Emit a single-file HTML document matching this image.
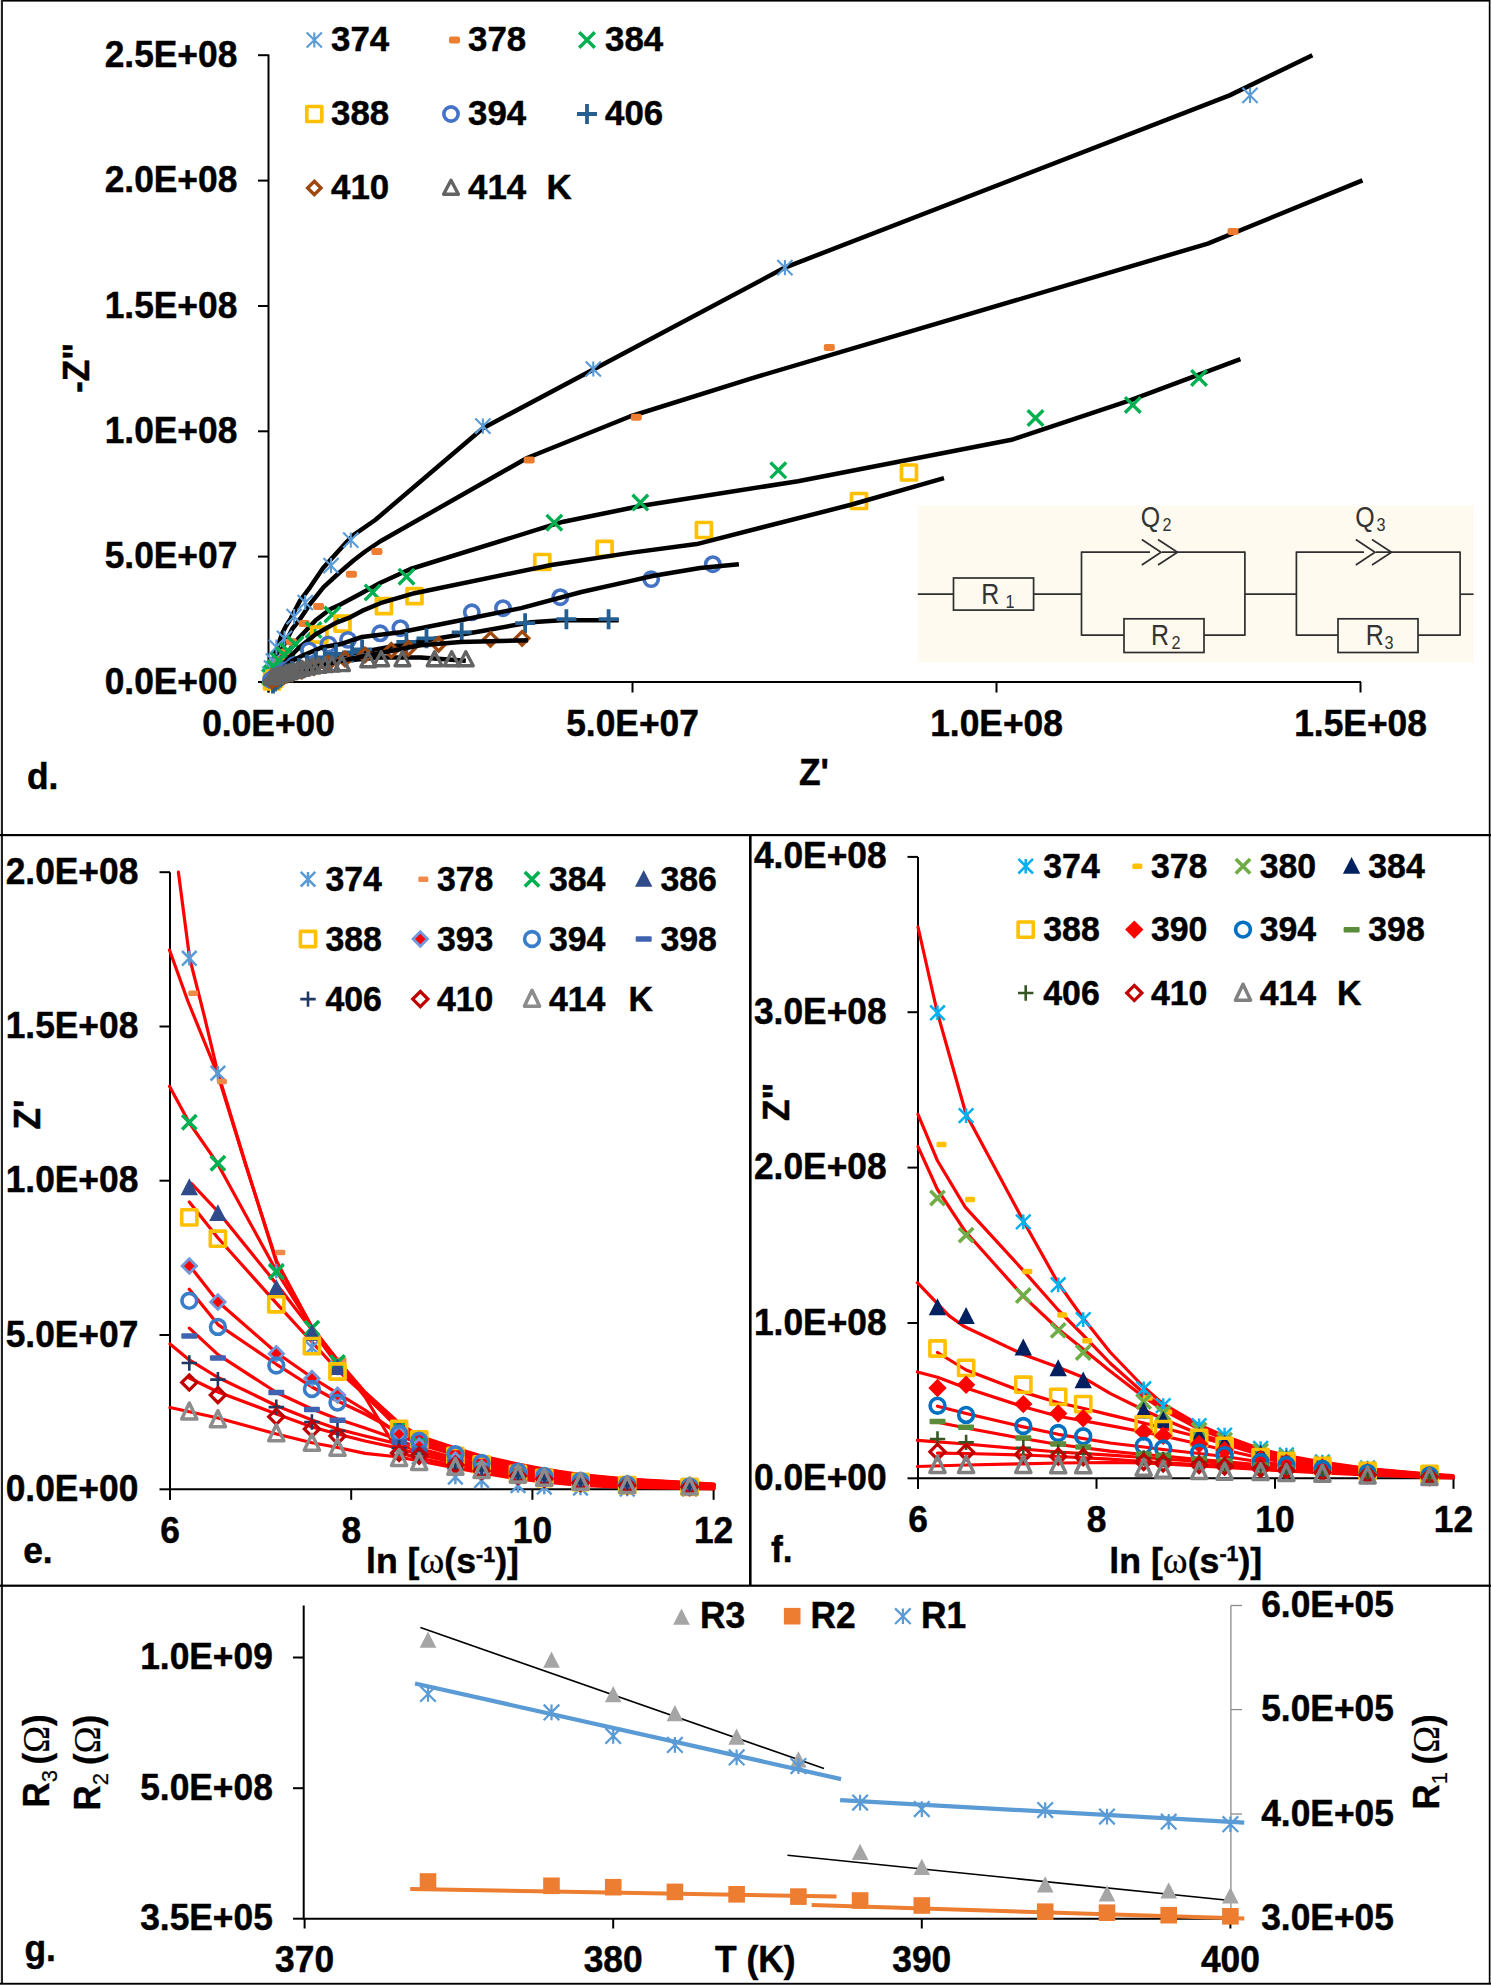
<!DOCTYPE html>
<html><head><meta charset="utf-8"><style>
html,body{margin:0;padding:0;background:#fff;}
svg{display:block;}
text{font-family:"Liberation Sans", sans-serif;}
</style></head><body>
<svg width="1491" height="1985" viewBox="0 0 1491 1985">
<rect x="0" y="0" width="1491" height="1985" fill="#fff"/>
<rect x="0.0" y="0.0" width="1491.0" height="1.6" fill="#000" />
<rect x="0.0" y="0.0" width="1.0" height="1985.0" fill="#ddd" />
<rect x="1.0" y="0.0" width="2.0" height="1985.0" fill="#222" />
<rect x="1488.8" y="0.0" width="1.2" height="1985.0" fill="#000" />
<rect x="1490.0" y="0.0" width="1.0" height="1985.0" fill="#8a8a8a" />
<rect x="0.0" y="1982.8" width="1491.0" height="1.2" fill="#000" />
<rect x="0.0" y="1984.0" width="1491.0" height="1.0" fill="#4f4f4f" />
<rect x="0.0" y="834.0" width="1491.0" height="2.2" fill="#000" />
<rect x="0.0" y="1584.6" width="1491.0" height="2.2" fill="#000" />
<rect x="749.0" y="835.0" width="2.6" height="750.0" fill="#000" />
<line x1="268.5" y1="54.5" x2="268.5" y2="692.5" stroke="#000" stroke-width="2" />
<line x1="267.5" y1="682.0" x2="1361.0" y2="682.0" stroke="#000" stroke-width="2" />
<line x1="258.0" y1="682.0" x2="268.5" y2="682.0" stroke="#000" stroke-width="2" />
<line x1="258.0" y1="556.6" x2="268.5" y2="556.6" stroke="#000" stroke-width="2" />
<line x1="258.0" y1="431.3" x2="268.5" y2="431.3" stroke="#000" stroke-width="2" />
<line x1="258.0" y1="306.0" x2="268.5" y2="306.0" stroke="#000" stroke-width="2" />
<line x1="258.0" y1="180.6" x2="268.5" y2="180.6" stroke="#000" stroke-width="2" />
<line x1="258.0" y1="55.2" x2="268.5" y2="55.2" stroke="#000" stroke-width="2" />
<line x1="268.5" y1="682.0" x2="268.5" y2="692.5" stroke="#000" stroke-width="2" />
<line x1="632.5" y1="682.0" x2="632.5" y2="692.5" stroke="#000" stroke-width="2" />
<line x1="996.5" y1="682.0" x2="996.5" y2="692.5" stroke="#000" stroke-width="2" />
<line x1="1360.5" y1="682.0" x2="1360.5" y2="692.5" stroke="#000" stroke-width="2" />
<text transform="translate(237.3,693.5) scale(1.01,1.04)" font-size="35" text-anchor="end" font-weight="bold" fill="#000" stroke="#000" stroke-width="0.45">0.0E+00</text>
<text transform="translate(237.3,568.1) scale(1.01,1.04)" font-size="35" text-anchor="end" font-weight="bold" fill="#000" stroke="#000" stroke-width="0.45">5.0E+07</text>
<text transform="translate(237.3,442.8) scale(1.01,1.04)" font-size="35" text-anchor="end" font-weight="bold" fill="#000" stroke="#000" stroke-width="0.45">1.0E+08</text>
<text transform="translate(237.3,317.5) scale(1.01,1.04)" font-size="35" text-anchor="end" font-weight="bold" fill="#000" stroke="#000" stroke-width="0.45">1.5E+08</text>
<text transform="translate(237.3,192.1) scale(1.01,1.04)" font-size="35" text-anchor="end" font-weight="bold" fill="#000" stroke="#000" stroke-width="0.45">2.0E+08</text>
<text transform="translate(237.3,66.8) scale(1.01,1.04)" font-size="35" text-anchor="end" font-weight="bold" fill="#000" stroke="#000" stroke-width="0.45">2.5E+08</text>
<text transform="translate(268.5,736.2) scale(1.01,1.04)" font-size="35" text-anchor="middle" font-weight="bold" fill="#000" stroke="#000" stroke-width="0.45">0.0E+00</text>
<text transform="translate(632.5,736.2) scale(1.01,1.04)" font-size="35" text-anchor="middle" font-weight="bold" fill="#000" stroke="#000" stroke-width="0.45">5.0E+07</text>
<text transform="translate(996.5,736.2) scale(1.01,1.04)" font-size="35" text-anchor="middle" font-weight="bold" fill="#000" stroke="#000" stroke-width="0.45">1.0E+08</text>
<text transform="translate(1360.5,736.2) scale(1.01,1.04)" font-size="35" text-anchor="middle" font-weight="bold" fill="#000" stroke="#000" stroke-width="0.45">1.5E+08</text>
<text transform="translate(27.0,788.5) scale(1.01,1.04)" font-size="35" text-anchor="start" font-weight="bold" fill="#000" stroke="#000" stroke-width="0.45">d.</text>
<text transform="translate(799.0,785.3) scale(1.01,1.04)" font-size="35" text-anchor="start" font-weight="bold" fill="#000" stroke="#000" stroke-width="0.45">Z'</text>
<text x="0" y="0" font-size="35" font-weight="bold" stroke="#000" stroke-width="0.45" transform="translate(89,393) rotate(-90) scale(1.01,1.04)">-Z"</text>
<polyline points="268.5,682.0 270.0,673.0 272.0,663.8 274.5,655.0 277.4,647.1 282.1,633.7 286.0,626.0 290.7,618.6 300.1,600.5 310.2,587.1 322.9,568.3 333.7,556.2 347.1,541.5 353.8,534.8 375.2,520.0 482.9,428.2 784.9,267.6 1229.6,95.4 1312.4,55.3" fill="none" stroke="#000" stroke-width="4.5" stroke-linejoin="round"  stroke-linecap="butt"/>
<polyline points="268.5,682.0 271.0,674.0 275.0,664.0 280.0,653.0 286.0,641.0 292.2,629.0 300.1,619.0 310.2,603.8 323.6,587.1 339.0,573.0 353.8,560.2 365.2,551.5 380.0,541.5 527.0,458.0 630.0,416.5 750.0,378.8 1207.8,243.6 1362.5,180.4" fill="none" stroke="#000" stroke-width="4.5" stroke-linejoin="round"  stroke-linecap="butt"/>
<polyline points="268.5,682.0 272.0,675.0 277.0,668.0 284.0,660.0 291.0,648.0 298.9,638.0 315.7,620.2 330.0,609.3 340.4,604.5 360.5,593.8 380.0,583.0 410.5,569.0 553.3,524.7 563.4,521.7 640.3,506.0 798.0,481.2 1011.6,439.8 1129.3,400.6 1240.4,359.1" fill="none" stroke="#000" stroke-width="4.5" stroke-linejoin="round"  stroke-linecap="butt"/>
<polyline points="268.5,682.0 278.0,677.0 290.0,671.5 305.0,666.0 325.0,660.0 350.0,654.0 370.2,650.4 420.5,641.3 480.8,631.2 531.1,622.2 561.3,620.2 618.7,620.2" fill="none" stroke="#000" stroke-width="4.5" stroke-linejoin="round"  stroke-linecap="butt"/>
<polyline points="268.5,682.0 282.0,677.0 298.0,672.0 318.0,667.5 340.0,661.0 380.2,657.5 420.5,657.4 465.8,660.8" fill="none" stroke="#000" stroke-width="4.5" stroke-linejoin="round"  stroke-linecap="butt"/>
<path d="M262.4,666.4L277.6,681.6M277.6,666.4L262.4,681.6M270.0,666.4L270.0,681.6" stroke="#5B9BD5" stroke-width="2.1" fill="none"/>
<path d="M263.9,660.4L279.1,675.6M279.1,660.4L263.9,675.6M271.5,660.4L271.5,675.6" stroke="#5B9BD5" stroke-width="2.1" fill="none"/>
<path d="M265.8,653.4L281.0,668.6M281.0,653.4L265.8,668.6M273.4,653.4L273.4,668.6" stroke="#5B9BD5" stroke-width="2.1" fill="none"/>
<path d="M268.8,639.5L284.0,654.7M284.0,639.5L268.8,654.7M276.4,639.5L276.4,654.7" stroke="#5B9BD5" stroke-width="2.1" fill="none"/>
<path d="M276.9,630.8L292.1,646.0M292.1,630.8L276.9,646.0M284.5,630.8L284.5,646.0" stroke="#5B9BD5" stroke-width="2.1" fill="none"/>
<path d="M286.5,609.0L301.7,624.2M301.7,609.0L286.5,624.2M294.1,609.0L294.1,624.2" stroke="#5B9BD5" stroke-width="2.1" fill="none"/>
<path d="M297.6,594.9L312.8,610.1M312.8,594.9L297.6,610.1M305.2,594.9L305.2,610.1" stroke="#5B9BD5" stroke-width="2.1" fill="none"/>
<path d="M323.4,558.0L338.6,573.2M338.6,558.0L323.4,573.2M331.0,558.0L331.0,573.2" stroke="#5B9BD5" stroke-width="2.1" fill="none"/>
<path d="M343.2,532.5L358.4,547.7M358.4,532.5L343.2,547.7M350.8,532.5L350.8,547.7" stroke="#5B9BD5" stroke-width="2.1" fill="none"/>
<path d="M475.3,418.6L490.5,433.8M490.5,418.6L475.3,433.8M482.9,418.6L482.9,433.8" stroke="#5B9BD5" stroke-width="2.1" fill="none"/>
<path d="M585.7,361.4L600.9,376.6M600.9,361.4L585.7,376.6M593.3,361.4L593.3,376.6" stroke="#5B9BD5" stroke-width="2.1" fill="none"/>
<path d="M777.3,260.0L792.5,275.2M792.5,260.0L777.3,275.2M784.9,260.0L784.9,275.2" stroke="#5B9BD5" stroke-width="2.1" fill="none"/>
<path d="M1242.4,87.8L1257.6,103.0M1257.6,87.8L1242.4,103.0M1250.0,87.8L1250.0,103.0" stroke="#5B9BD5" stroke-width="2.1" fill="none"/>
<rect x="265.5" y="672.5" width="11" height="7" rx="2.2" fill="#ED7D31"/>
<rect x="267.5" y="667.5" width="11" height="7" rx="2.2" fill="#ED7D31"/>
<rect x="270.5" y="662.5" width="11" height="7" rx="2.2" fill="#ED7D31"/>
<rect x="274.5" y="656.5" width="11" height="7" rx="2.2" fill="#ED7D31"/>
<rect x="279.5" y="648.5" width="11" height="7" rx="2.2" fill="#ED7D31"/>
<rect x="286.0" y="638.2" width="11" height="7" rx="2.2" fill="#ED7D31"/>
<rect x="298.8" y="620.1" width="11" height="7" rx="2.2" fill="#ED7D31"/>
<rect x="313.1" y="603.0" width="11" height="7" rx="2.2" fill="#ED7D31"/>
<rect x="345.9" y="570.8" width="11" height="7" rx="2.2" fill="#ED7D31"/>
<rect x="371.4" y="548.0" width="11" height="7" rx="2.2" fill="#ED7D31"/>
<rect x="523.7" y="456.5" width="11" height="7" rx="2.2" fill="#ED7D31"/>
<rect x="630.8" y="413.8" width="11" height="7" rx="2.2" fill="#ED7D31"/>
<rect x="823.8" y="343.9" width="11" height="7" rx="2.2" fill="#ED7D31"/>
<rect x="1227.5" y="227.9" width="11" height="7" rx="2.2" fill="#ED7D31"/>
<path d="M262.2,669.2L277.8,684.8M277.8,669.2L262.2,684.8" stroke="#00B050" stroke-width="3.4" fill="none"/>
<path d="M264.2,665.2L279.8,680.8M279.8,665.2L264.2,680.8" stroke="#00B050" stroke-width="3.4" fill="none"/>
<path d="M267.2,660.2L282.8,675.8M282.8,660.2L267.2,675.8" stroke="#00B050" stroke-width="3.4" fill="none"/>
<path d="M271.0,652.7L286.6,668.3M286.6,652.7L271.0,668.3" stroke="#00B050" stroke-width="3.4" fill="none"/>
<path d="M276.2,647.2L291.8,662.8M291.8,647.2L276.2,662.8" stroke="#00B050" stroke-width="3.4" fill="none"/>
<path d="M280.4,643.3L296.0,658.9M296.0,643.3L280.4,658.9" stroke="#00B050" stroke-width="3.4" fill="none"/>
<path d="M287.7,636.6L303.3,652.2M303.3,636.6L287.7,652.2" stroke="#00B050" stroke-width="3.4" fill="none"/>
<path d="M305.8,622.2L321.4,637.8M321.4,622.2L305.8,637.8" stroke="#00B050" stroke-width="3.4" fill="none"/>
<path d="M324.5,606.7L340.1,622.3M340.1,606.7L324.5,622.3" stroke="#00B050" stroke-width="3.4" fill="none"/>
<path d="M364.8,584.6L380.4,600.2M380.4,584.6L364.8,600.2" stroke="#00B050" stroke-width="3.4" fill="none"/>
<path d="M398.7,568.9L414.3,584.5M414.3,568.9L398.7,584.5" stroke="#00B050" stroke-width="3.4" fill="none"/>
<path d="M546.5,514.9L562.1,530.5M562.1,514.9L546.5,530.5" stroke="#00B050" stroke-width="3.4" fill="none"/>
<path d="M632.5,494.8L648.1,510.4M648.1,494.8L632.5,510.4" stroke="#00B050" stroke-width="3.4" fill="none"/>
<path d="M770.5,462.5L786.1,478.1M786.1,462.5L770.5,478.1" stroke="#00B050" stroke-width="3.4" fill="none"/>
<path d="M1027.7,410.2L1043.3,425.8M1043.3,410.2L1027.7,425.8" stroke="#00B050" stroke-width="3.4" fill="none"/>
<path d="M1125.0,397.1L1140.6,412.7M1140.6,397.1L1125.0,412.7" stroke="#00B050" stroke-width="3.4" fill="none"/>
<path d="M1191.2,370.1L1206.8,385.7M1206.8,370.1L1191.2,385.7" stroke="#00B050" stroke-width="3.4" fill="none"/>
<rect x="264.5" y="674.0" width="15.0" height="15.0" stroke="#FFC000" stroke-width="3.7" fill="none" stroke-linejoin="round"/>
<rect x="267.0" y="671.0" width="15.0" height="15.0" stroke="#FFC000" stroke-width="3.7" fill="none" stroke-linejoin="round"/>
<rect x="311.9" y="627.1" width="15.0" height="15.0" stroke="#FFC000" stroke-width="3.7" fill="none" stroke-linejoin="round"/>
<rect x="335.0" y="616.1" width="15.0" height="15.0" stroke="#FFC000" stroke-width="3.7" fill="none" stroke-linejoin="round"/>
<rect x="376.4" y="598.7" width="15.0" height="15.0" stroke="#FFC000" stroke-width="3.7" fill="none" stroke-linejoin="round"/>
<rect x="407.0" y="588.7" width="15.0" height="15.0" stroke="#FFC000" stroke-width="3.7" fill="none" stroke-linejoin="round"/>
<rect x="534.8" y="554.5" width="15.0" height="15.0" stroke="#FFC000" stroke-width="3.7" fill="none" stroke-linejoin="round"/>
<rect x="597.1" y="541.4" width="15.0" height="15.0" stroke="#FFC000" stroke-width="3.7" fill="none" stroke-linejoin="round"/>
<rect x="696.4" y="522.5" width="15.0" height="15.0" stroke="#FFC000" stroke-width="3.7" fill="none" stroke-linejoin="round"/>
<rect x="851.5" y="493.5" width="15.0" height="15.0" stroke="#FFC000" stroke-width="3.7" fill="none" stroke-linejoin="round"/>
<rect x="901.5" y="465.0" width="15.0" height="15.0" stroke="#FFC000" stroke-width="3.7" fill="none" stroke-linejoin="round"/>
<polyline points="268.5,682.0 273.0,676.0 279.0,669.0 287.0,660.0 298.9,647.7 315.7,634.3 335.8,622.9 350.1,617.3 362.0,610.9 380.3,603.2 414.5,593.2 551.3,565.0 630.0,552.9 696.7,544.1 850.0,505.0 944.0,478.2" fill="none" stroke="#000" stroke-width="4.5" stroke-linejoin="round"  stroke-linecap="butt"/>
<circle cx="271.0" cy="680.0" r="7.15" stroke="#4472C4" stroke-width="3.6" fill="none"/>
<circle cx="275.0" cy="677.0" r="7.15" stroke="#4472C4" stroke-width="3.6" fill="none"/>
<circle cx="280.0" cy="674.0" r="7.15" stroke="#4472C4" stroke-width="3.6" fill="none"/>
<circle cx="286.0" cy="670.0" r="7.15" stroke="#4472C4" stroke-width="3.6" fill="none"/>
<circle cx="294.0" cy="665.0" r="7.15" stroke="#4472C4" stroke-width="3.6" fill="none"/>
<circle cx="309.0" cy="650.4" r="7.15" stroke="#4472C4" stroke-width="3.6" fill="none"/>
<circle cx="328.4" cy="644.4" r="7.15" stroke="#4472C4" stroke-width="3.6" fill="none"/>
<circle cx="348.0" cy="639.9" r="7.15" stroke="#4472C4" stroke-width="3.6" fill="none"/>
<circle cx="380.2" cy="633.3" r="7.15" stroke="#4472C4" stroke-width="3.6" fill="none"/>
<circle cx="400.4" cy="628.2" r="7.15" stroke="#4472C4" stroke-width="3.6" fill="none"/>
<circle cx="471.8" cy="612.3" r="7.15" stroke="#4472C4" stroke-width="3.6" fill="none"/>
<circle cx="503.0" cy="608.2" r="7.15" stroke="#4472C4" stroke-width="3.6" fill="none"/>
<circle cx="560.3" cy="597.2" r="7.15" stroke="#4472C4" stroke-width="3.6" fill="none"/>
<circle cx="651.2" cy="579.1" r="7.15" stroke="#4472C4" stroke-width="3.6" fill="none"/>
<circle cx="712.8" cy="564.2" r="7.15" stroke="#4472C4" stroke-width="3.6" fill="none"/>
<polyline points="268.5,682.0 275.0,675.0 283.0,668.0 292.0,661.0 302.2,655.8 322.4,647.1 340.0,644.3 362.0,637.0 400.4,632.3 460.7,620.2 521.1,608.1 581.4,592.0 630.0,581.1 652.4,576.0 700.0,568.0 738.9,564.2" fill="none" stroke="#000" stroke-width="4.5" stroke-linejoin="round"  stroke-linecap="butt"/>
<path d="M263.0,683.5L283.0,683.5M273.0,673.5L273.0,693.5" stroke="#255E91" stroke-width="3.8" fill="none"/>
<path d="M265.0,681.5L285.0,681.5M275.0,671.5L275.0,691.5" stroke="#255E91" stroke-width="3.8" fill="none"/>
<path d="M267.5,679.5L287.5,679.5M277.5,669.5L277.5,689.5" stroke="#255E91" stroke-width="3.8" fill="none"/>
<path d="M270.0,677.5L290.0,677.5M280.0,667.5L280.0,687.5" stroke="#255E91" stroke-width="3.8" fill="none"/>
<path d="M271.0,676.0L291.0,676.0M281.0,666.0L281.0,686.0" stroke="#255E91" stroke-width="3.8" fill="none"/>
<path d="M276.0,673.5L296.0,673.5M286.0,663.5L286.0,683.5" stroke="#255E91" stroke-width="3.8" fill="none"/>
<path d="M282.0,671.0L302.0,671.0M292.0,661.0L292.0,681.0" stroke="#255E91" stroke-width="3.8" fill="none"/>
<path d="M289.0,668.0L309.0,668.0M299.0,658.0L299.0,678.0" stroke="#255E91" stroke-width="3.8" fill="none"/>
<path d="M297.0,664.5L317.0,664.5M307.0,654.5L307.0,674.5" stroke="#255E91" stroke-width="3.8" fill="none"/>
<path d="M306.0,661.0L326.0,661.0M316.0,651.0L316.0,671.0" stroke="#255E91" stroke-width="3.8" fill="none"/>
<path d="M314.8,657.4L334.8,657.4M324.8,647.4L324.8,667.4" stroke="#255E91" stroke-width="3.8" fill="none"/>
<path d="M326.0,654.0L346.0,654.0M336.0,644.0L336.0,664.0" stroke="#255E91" stroke-width="3.8" fill="none"/>
<path d="M342.1,652.4L362.1,652.4M352.1,642.4L352.1,662.4" stroke="#255E91" stroke-width="3.8" fill="none"/>
<path d="M352.1,649.4L372.1,649.4M362.1,639.4L362.1,659.4" stroke="#255E91" stroke-width="3.8" fill="none"/>
<path d="M396.4,641.9L416.4,641.9M406.4,631.9L406.4,651.9" stroke="#255E91" stroke-width="3.8" fill="none"/>
<path d="M416.5,638.3L436.5,638.3M426.5,628.3L426.5,648.3" stroke="#255E91" stroke-width="3.8" fill="none"/>
<path d="M451.7,632.3L471.7,632.3M461.7,622.3L461.7,642.3" stroke="#255E91" stroke-width="3.8" fill="none"/>
<path d="M515.1,623.2L535.1,623.2M525.1,613.2L525.1,633.2" stroke="#255E91" stroke-width="3.8" fill="none"/>
<path d="M556.4,619.2L576.4,619.2M566.4,609.2L566.4,629.2" stroke="#255E91" stroke-width="3.8" fill="none"/>
<path d="M598.6,619.2L618.6,619.2M608.6,609.2L608.6,629.2" stroke="#255E91" stroke-width="3.8" fill="none"/>
<path d="M272.0,674.3L278.7,681.0L272.0,687.7L265.3,681.0Z" stroke="#9E480E" stroke-width="3.4" fill="none"/>
<path d="M277.0,672.3L283.7,679.0L277.0,685.7L270.3,679.0Z" stroke="#9E480E" stroke-width="3.4" fill="none"/>
<path d="M284.0,669.8L290.7,676.5L284.0,683.2L277.3,676.5Z" stroke="#9E480E" stroke-width="3.4" fill="none"/>
<path d="M292.0,667.3L298.7,674.0L292.0,680.7L285.3,674.0Z" stroke="#9E480E" stroke-width="3.4" fill="none"/>
<path d="M302.0,664.3L308.7,671.0L302.0,677.7L295.3,671.0Z" stroke="#9E480E" stroke-width="3.4" fill="none"/>
<path d="M314.0,660.8L320.7,667.5L314.0,674.2L307.3,667.5Z" stroke="#9E480E" stroke-width="3.4" fill="none"/>
<path d="M328.0,656.8L334.7,663.5L328.0,670.2L321.3,663.5Z" stroke="#9E480E" stroke-width="3.4" fill="none"/>
<path d="M345.0,652.3L351.7,659.0L345.0,665.7L338.3,659.0Z" stroke="#9E480E" stroke-width="3.4" fill="none"/>
<path d="M365.0,648.3L371.7,655.0L365.0,661.7L358.3,655.0Z" stroke="#9E480E" stroke-width="3.4" fill="none"/>
<path d="M391.3,643.7L398.0,650.4L391.3,657.1L384.6,650.4Z" stroke="#9E480E" stroke-width="3.4" fill="none"/>
<path d="M408.4,641.7L415.1,648.4L408.4,655.1L401.7,648.4Z" stroke="#9E480E" stroke-width="3.4" fill="none"/>
<path d="M438.6,637.6L445.3,644.3L438.6,651.0L431.9,644.3Z" stroke="#9E480E" stroke-width="3.4" fill="none"/>
<path d="M490.5,632.6L497.2,639.3L490.5,646.0L483.8,639.3Z" stroke="#9E480E" stroke-width="3.4" fill="none"/>
<path d="M522.1,631.6L528.8,638.3L522.1,645.0L515.4,638.3Z" stroke="#9E480E" stroke-width="3.4" fill="none"/>
<polyline points="268.5,682.0 280.0,677.5 295.0,672.5 315.0,667.0 340.0,661.0 370.0,655.0 420.5,645.3 460.7,641.9 528.1,640.3" fill="none" stroke="#000" stroke-width="4.5" stroke-linejoin="round"  stroke-linecap="butt"/>
<path d="M272.0,669.8L279.4,683.8L264.6,683.8Z" stroke="#636363" stroke-width="3.4" fill="none" stroke-linejoin="round"/>
<path d="M275.5,668.8L282.9,682.8L268.1,682.8Z" stroke="#636363" stroke-width="3.4" fill="none" stroke-linejoin="round"/>
<path d="M279.0,667.8L286.4,681.8L271.6,681.8Z" stroke="#636363" stroke-width="3.4" fill="none" stroke-linejoin="round"/>
<path d="M282.5,666.8L289.9,680.8L275.1,680.8Z" stroke="#636363" stroke-width="3.4" fill="none" stroke-linejoin="round"/>
<path d="M286.0,665.8L293.4,679.8L278.6,679.8Z" stroke="#636363" stroke-width="3.4" fill="none" stroke-linejoin="round"/>
<path d="M289.5,664.8L296.9,678.8L282.1,678.8Z" stroke="#636363" stroke-width="3.4" fill="none" stroke-linejoin="round"/>
<path d="M293.5,663.6L300.9,677.6L286.1,677.6Z" stroke="#636363" stroke-width="3.4" fill="none" stroke-linejoin="round"/>
<path d="M297.5,662.6L304.9,676.6L290.1,676.6Z" stroke="#636363" stroke-width="3.4" fill="none" stroke-linejoin="round"/>
<path d="M302.0,661.3L309.4,675.3L294.6,675.3Z" stroke="#636363" stroke-width="3.4" fill="none" stroke-linejoin="round"/>
<path d="M307.0,660.1L314.4,674.1L299.6,674.1Z" stroke="#636363" stroke-width="3.4" fill="none" stroke-linejoin="round"/>
<path d="M312.5,659.1L319.9,673.1L305.1,673.1Z" stroke="#636363" stroke-width="3.4" fill="none" stroke-linejoin="round"/>
<path d="M318.5,658.3L325.9,672.3L311.1,672.3Z" stroke="#636363" stroke-width="3.4" fill="none" stroke-linejoin="round"/>
<path d="M325.0,657.6L332.4,671.6L317.6,671.6Z" stroke="#636363" stroke-width="3.4" fill="none" stroke-linejoin="round"/>
<path d="M332.0,657.1L339.4,671.1L324.6,671.1Z" stroke="#636363" stroke-width="3.4" fill="none" stroke-linejoin="round"/>
<path d="M342.0,656.6L349.4,670.6L334.6,670.6Z" stroke="#636363" stroke-width="3.4" fill="none" stroke-linejoin="round"/>
<path d="M368.2,652.7L375.6,666.7L360.8,666.7Z" stroke="#636363" stroke-width="3.4" fill="none" stroke-linejoin="round"/>
<path d="M381.2,651.7L388.6,665.7L373.8,665.7Z" stroke="#636363" stroke-width="3.4" fill="none" stroke-linejoin="round"/>
<path d="M402.4,651.7L409.8,665.7L395.0,665.7Z" stroke="#636363" stroke-width="3.4" fill="none" stroke-linejoin="round"/>
<path d="M434.6,651.7L442.0,665.7L427.2,665.7Z" stroke="#636363" stroke-width="3.4" fill="none" stroke-linejoin="round"/>
<path d="M451.7,651.7L459.1,665.7L444.3,665.7Z" stroke="#636363" stroke-width="3.4" fill="none" stroke-linejoin="round"/>
<path d="M465.8,651.7L473.2,665.7L458.4,665.7Z" stroke="#636363" stroke-width="3.4" fill="none" stroke-linejoin="round"/>
<text transform="translate(331.0,51.0) scale(1.01,1.04)" font-size="34.5" text-anchor="start" font-weight="bold" fill="#000" stroke="#000" stroke-width="0.45">374</text>
<path d="M306.7,32.4L321.9,47.6M321.9,32.4L306.7,47.6M314.3,32.4L314.3,47.6" stroke="#5B9BD5" stroke-width="2.1" fill="none"/>
<text transform="translate(468.0,51.0) scale(1.01,1.04)" font-size="34.5" text-anchor="start" font-weight="bold" fill="#000" stroke="#000" stroke-width="0.45">378</text>
<rect x="449.0" y="36.5" width="11" height="7" rx="2.2" fill="#ED7D31"/>
<text transform="translate(605.0,51.0) scale(1.01,1.04)" font-size="34.5" text-anchor="start" font-weight="bold" fill="#000" stroke="#000" stroke-width="0.45">384</text>
<path d="M579.2,32.2L594.8,47.8M594.8,32.2L579.2,47.8" stroke="#00B050" stroke-width="3.4" fill="none"/>
<text transform="translate(331.0,125.0) scale(1.01,1.04)" font-size="34.5" text-anchor="start" font-weight="bold" fill="#000" stroke="#000" stroke-width="0.45">388</text>
<rect x="306.8" y="106.5" width="15.0" height="15.0" stroke="#FFC000" stroke-width="3.7" fill="none" stroke-linejoin="round"/>
<text transform="translate(468.0,125.0) scale(1.01,1.04)" font-size="34.5" text-anchor="start" font-weight="bold" fill="#000" stroke="#000" stroke-width="0.45">394</text>
<circle cx="451.0" cy="114.0" r="7.15" stroke="#4472C4" stroke-width="3.6" fill="none"/>
<text transform="translate(605.0,125.0) scale(1.01,1.04)" font-size="34.5" text-anchor="start" font-weight="bold" fill="#000" stroke="#000" stroke-width="0.45">406</text>
<path d="M577.0,114.0L597.0,114.0M587.0,104.0L587.0,124.0" stroke="#255E91" stroke-width="3.8" fill="none"/>
<text transform="translate(331.0,199.0) scale(1.01,1.04)" font-size="34.5" text-anchor="start" font-weight="bold" fill="#000" stroke="#000" stroke-width="0.45">410</text>
<path d="M314.3,181.3L321.0,188.0L314.3,194.7L307.6,188.0Z" stroke="#9E480E" stroke-width="3.4" fill="none"/>
<text transform="translate(468.0,199.0) scale(1.01,1.04)" font-size="34.5" text-anchor="start" font-weight="bold" fill="#000" stroke="#000" stroke-width="0.45">414</text>
<path d="M451.0,180.3L458.4,194.3L443.6,194.3Z" stroke="#636363" stroke-width="3.4" fill="none" stroke-linejoin="round"/>
<text transform="translate(546.5,199.0) scale(1.01,1.04)" font-size="34.5" text-anchor="start" font-weight="bold" fill="#000" stroke="#000" stroke-width="0.45">K</text>
<rect x="917.8" y="505.5" width="555.8" height="156.9" fill="#FEFAEF" />
<line x1="917.8" y1="594.2" x2="953.5" y2="594.2" stroke="#2e2e2e" stroke-width="1.7" />
<rect x="953.5" y="578" width="80.1" height="32.1" fill="none" stroke="#2e2e2e" stroke-width="1.7"/>
<line x1="1033.6" y1="594.2" x2="1081.5" y2="594.2" stroke="#2e2e2e" stroke-width="1.7" />
<line x1="1081.5" y1="551.5" x2="1081.5" y2="635.8" stroke="#2e2e2e" stroke-width="1.7" />
<line x1="1244.9" y1="551.5" x2="1244.9" y2="635.8" stroke="#2e2e2e" stroke-width="1.7" />
<line x1="1081.5" y1="552.2" x2="1150.0" y2="552.2" stroke="#2e2e2e" stroke-width="1.7" />
<line x1="1162.0" y1="552.2" x2="1244.9" y2="552.2" stroke="#2e2e2e" stroke-width="1.7" />
<path d="M1141.8,539.5 L1161,552.2 L1141.8,565 M1158,539.5 L1177.5,552.2 L1158,565" fill="none" stroke="#2e2e2e" stroke-width="1.7"/>
<line x1="1081.5" y1="635.1" x2="1124.0" y2="635.1" stroke="#2e2e2e" stroke-width="1.7" />
<line x1="1204.0" y1="635.1" x2="1244.9" y2="635.1" stroke="#2e2e2e" stroke-width="1.7" />
<rect x="1124" y="618.8" width="80" height="33.7" fill="none" stroke="#2e2e2e" stroke-width="1.7"/>
<line x1="1244.9" y1="594.2" x2="1296.4" y2="594.2" stroke="#2e2e2e" stroke-width="1.7" />
<line x1="1296.4" y1="551.5" x2="1296.4" y2="635.8" stroke="#2e2e2e" stroke-width="1.7" />
<line x1="1460.1" y1="551.5" x2="1460.1" y2="635.8" stroke="#2e2e2e" stroke-width="1.7" />
<line x1="1296.4" y1="552.2" x2="1364.0" y2="552.2" stroke="#2e2e2e" stroke-width="1.7" />
<line x1="1376.0" y1="552.2" x2="1460.1" y2="552.2" stroke="#2e2e2e" stroke-width="1.7" />
<path d="M1355.8,539.5 L1375,552.2 L1355.8,565 M1372,539.5 L1391.5,552.2 L1372,565" fill="none" stroke="#2e2e2e" stroke-width="1.7"/>
<line x1="1296.4" y1="635.1" x2="1338.0" y2="635.1" stroke="#2e2e2e" stroke-width="1.7" />
<line x1="1418.0" y1="635.1" x2="1460.1" y2="635.1" stroke="#2e2e2e" stroke-width="1.7" />
<rect x="1338" y="618.8" width="80" height="33.7" fill="none" stroke="#2e2e2e" stroke-width="1.7"/>
<line x1="1460.1" y1="594.2" x2="1473.6" y2="594.2" stroke="#2e2e2e" stroke-width="1.7" />
<text transform="translate(981.3,603.6) scale(0.86,1)" font-size="29" fill="#333">R</text>
<text transform="translate(1005.5,607.7) scale(0.9,1)" font-size="18" fill="#333">1</text>
<text transform="translate(1150.9,644.6) scale(0.86,1)" font-size="29" fill="#333">R</text>
<text transform="translate(1171.5,648.5) scale(0.9,1)" font-size="18" fill="#333">2</text>
<text transform="translate(1365.8,644.6) scale(0.86,1)" font-size="29" fill="#333">R</text>
<text transform="translate(1384.4,648.5) scale(0.9,1)" font-size="18" fill="#333">3</text>
<text transform="translate(1140.8,526.5) scale(0.86,1)" font-size="29" fill="#333">Q</text>
<text transform="translate(1162.5,531.2) scale(0.9,1)" font-size="18" fill="#333">2</text>
<text transform="translate(1355.3,526.5) scale(0.86,1)" font-size="29" fill="#333">Q</text>
<text transform="translate(1376.5,531.2) scale(0.9,1)" font-size="18" fill="#333">3</text>
<line x1="170.0" y1="872.2" x2="170.0" y2="1499.8" stroke="#000" stroke-width="2" />
<line x1="169.0" y1="1489.3" x2="714.6" y2="1489.3" stroke="#000" stroke-width="2" />
<line x1="159.5" y1="1489.3" x2="170.0" y2="1489.3" stroke="#000" stroke-width="2" />
<text transform="translate(138.3,1500.8) scale(1.01,1.04)" font-size="35" text-anchor="end" font-weight="bold" fill="#000" stroke="#000" stroke-width="0.45">0.0E+00</text>
<line x1="159.5" y1="1335.0" x2="170.0" y2="1335.0" stroke="#000" stroke-width="2" />
<text transform="translate(138.3,1346.5) scale(1.01,1.04)" font-size="35" text-anchor="end" font-weight="bold" fill="#000" stroke="#000" stroke-width="0.45">5.0E+07</text>
<line x1="159.5" y1="1180.7" x2="170.0" y2="1180.7" stroke="#000" stroke-width="2" />
<text transform="translate(138.3,1192.2) scale(1.01,1.04)" font-size="35" text-anchor="end" font-weight="bold" fill="#000" stroke="#000" stroke-width="0.45">1.0E+08</text>
<line x1="159.5" y1="1026.5" x2="170.0" y2="1026.5" stroke="#000" stroke-width="2" />
<text transform="translate(138.3,1038.0) scale(1.01,1.04)" font-size="35" text-anchor="end" font-weight="bold" fill="#000" stroke="#000" stroke-width="0.45">1.5E+08</text>
<line x1="159.5" y1="872.2" x2="170.0" y2="872.2" stroke="#000" stroke-width="2" />
<text transform="translate(138.3,883.7) scale(1.01,1.04)" font-size="35" text-anchor="end" font-weight="bold" fill="#000" stroke="#000" stroke-width="0.45">2.0E+08</text>
<line x1="170.0" y1="1489.3" x2="170.0" y2="1499.8" stroke="#000" stroke-width="2" />
<text transform="translate(170.0,1542.6) scale(1.01,1.04)" font-size="35" text-anchor="middle" font-weight="bold" fill="#000" stroke="#000" stroke-width="0.45">6</text>
<line x1="351.2" y1="1489.3" x2="351.2" y2="1499.8" stroke="#000" stroke-width="2" />
<text transform="translate(351.2,1542.6) scale(1.01,1.04)" font-size="35" text-anchor="middle" font-weight="bold" fill="#000" stroke="#000" stroke-width="0.45">8</text>
<line x1="532.4" y1="1489.3" x2="532.4" y2="1499.8" stroke="#000" stroke-width="2" />
<text transform="translate(532.4,1542.6) scale(1.01,1.04)" font-size="35" text-anchor="middle" font-weight="bold" fill="#000" stroke="#000" stroke-width="0.45">10</text>
<line x1="713.6" y1="1489.3" x2="713.6" y2="1499.8" stroke="#000" stroke-width="2" />
<text transform="translate(713.6,1542.6) scale(1.01,1.04)" font-size="35" text-anchor="middle" font-weight="bold" fill="#000" stroke="#000" stroke-width="0.45">12</text>
<text transform="translate(23.2,1563.2) scale(1.01,1.04)" font-size="35" text-anchor="start" font-weight="bold" fill="#000" stroke="#000" stroke-width="0.45">e.</text>
<text transform="translate(366.0,1573.3) scale(1.02,1.025)" font-size="35" font-weight="bold" stroke="#000" stroke-width="0.45">ln [<tspan font-family="Liberation Serif" font-weight="normal" font-size="37" stroke-width="0.3">&#969;</tspan>(s<tspan font-size="21" dy="-11.5">-1</tspan><tspan dy="11.5">)]</tspan></text>
<text x="0" y="0" font-size="35" font-weight="bold" stroke="#000" stroke-width="0.45" transform="translate(39.5,1129.5) rotate(-90) scale(1.01,1.04)">Z'</text>
<polyline points="178.4,872.2 189.6,958.0 203.9,1014.4 217.7,1072.2 246.0,1165.0 276.7,1263.3 311.4,1326.0 337.5,1362.0 365.0,1397.0 399.1,1452.9 419.2,1458.0 455.4,1465.6 481.6,1471.0 518.0,1477.2 544.3,1480.4 580.5,1484.2 627.2,1486.5 689.6,1487.8 714.0,1488.2" fill="none" stroke="#FF0000" stroke-width="3.2" stroke-linejoin="round" stroke-linecap="round" />
<polyline points="169.5,950.0 187.8,1001.0 217.3,1073.4 246.0,1166.0 276.7,1261.3 311.4,1326.4 337.5,1360.0 365.0,1395.0 399.1,1429.1 419.2,1440.5 455.4,1451.6 481.6,1459.1 518.0,1466.7 544.3,1471.3 580.5,1476.5 627.2,1480.5 689.6,1483.6 714.0,1484.9" fill="none" stroke="#FF0000" stroke-width="3.2" stroke-linejoin="round" stroke-linecap="round" />
<polyline points="169.5,1086.3 189.1,1122.5 217.6,1163.7 276.6,1271.3 312.0,1328.0 337.5,1360.0 365.0,1392.0 399.1,1423.0 419.2,1436.0 455.4,1448.0 481.6,1456.0 518.0,1464.0 544.3,1469.0 580.5,1474.5 627.2,1479.0 689.6,1482.5 714.0,1484.0" fill="none" stroke="#FF0000" stroke-width="3.2" stroke-linejoin="round" stroke-linecap="round" />
<polyline points="191.5,1183.5 218.0,1211.7 276.5,1284.0 312.0,1330.0 337.5,1365.0 365.0,1394.0 399.1,1425.0 419.2,1437.5 455.4,1449.2 481.6,1457.0 518.0,1464.9 544.3,1469.8 580.5,1475.2 627.2,1479.5 689.6,1482.9 714.0,1484.3" fill="none" stroke="#FF0000" stroke-width="3.2" stroke-linejoin="round" stroke-linecap="round" />
<polyline points="189.3,1202.0 218.0,1238.0 276.5,1303.4 312.0,1342.0 337.5,1370.0 365.0,1395.0 399.1,1427.1 419.2,1439.0 455.4,1450.4 481.6,1458.0 518.0,1465.8 544.3,1470.6 580.5,1475.8 627.2,1480.0 689.6,1483.2 714.0,1484.6" fill="none" stroke="#FF0000" stroke-width="3.2" stroke-linejoin="round" stroke-linecap="round" />
<polyline points="191.5,1268.0 218.0,1301.7 276.5,1352.8 312.0,1377.5 337.5,1393.4 365.0,1410.0 399.1,1434.6 419.2,1444.5 455.4,1454.8 481.6,1461.8 518.0,1469.1 544.3,1473.4 580.5,1478.2 627.2,1481.9 689.6,1484.5 714.0,1485.6" fill="none" stroke="#FF0000" stroke-width="3.2" stroke-linejoin="round" stroke-linecap="round" />
<polyline points="189.3,1289.3 218.0,1324.6 276.5,1364.3 312.0,1387.0 337.5,1401.0 365.0,1414.0 399.1,1432.5 419.2,1443.0 455.4,1453.6 481.6,1460.8 518.0,1468.2 544.3,1472.6 580.5,1477.6 627.2,1481.4 689.6,1484.2 714.0,1485.3" fill="none" stroke="#FF0000" stroke-width="3.2" stroke-linejoin="round" stroke-linecap="round" />
<polyline points="189.3,1328.1 218.0,1354.6 276.5,1392.5 312.0,1409.0 337.5,1419.0 365.0,1428.0 399.1,1440.0 419.2,1448.5 455.4,1458.0 481.6,1464.5 518.0,1471.5 544.3,1475.5 580.5,1480.0 627.2,1483.2 689.6,1485.5 714.0,1486.4" fill="none" stroke="#FF0000" stroke-width="3.2" stroke-linejoin="round" stroke-linecap="round" />
<polyline points="170.0,1344.0 189.3,1359.9 218.0,1377.5 276.5,1405.7 312.0,1420.0 337.5,1429.0 365.0,1436.0 399.1,1444.1 419.2,1451.5 455.4,1460.4 481.6,1466.5 518.0,1473.3 544.3,1477.1 580.5,1481.3 627.2,1484.3 689.6,1486.2 714.0,1487.0" fill="none" stroke="#FF0000" stroke-width="3.2" stroke-linejoin="round" stroke-linecap="round" />
<polyline points="189.3,1378.0 218.0,1392.0 276.5,1414.0 312.0,1427.0 337.5,1434.0 365.0,1441.0 399.1,1448.2 419.2,1454.5 455.4,1462.8 481.6,1468.6 518.0,1475.1 544.3,1478.6 580.5,1482.6 627.2,1485.3 689.6,1486.9 714.0,1487.6" fill="none" stroke="#FF0000" stroke-width="3.2" stroke-linejoin="round" stroke-linecap="round" />
<polyline points="170.0,1407.5 218.0,1418.0 276.5,1434.0 312.0,1442.8 337.5,1447.5 365.0,1453.4 399.1,1457.0 419.2,1461.0 455.4,1468.0 481.6,1473.0 518.0,1479.0 544.3,1482.0 580.5,1485.5 627.2,1487.5 689.6,1488.5 714.0,1488.8" fill="none" stroke="#FF0000" stroke-width="3.2" stroke-linejoin="round" stroke-linecap="round" />
<path d="M182.0,951.0L196.6,965.6M196.6,951.0L182.0,965.6M189.3,951.0L189.3,965.6" stroke="#5B9BD5" stroke-width="2.5" fill="none"/>
<path d="M210.6,1065.9L225.2,1080.5M225.2,1065.9L210.6,1080.5M217.9,1065.9L217.9,1080.5" stroke="#5B9BD5" stroke-width="2.5" fill="none"/>
<path d="M269.0,1263.7L283.6,1278.3M283.6,1263.7L269.0,1278.3M276.3,1263.7L276.3,1278.3" stroke="#5B9BD5" stroke-width="2.5" fill="none"/>
<path d="M304.6,1340.2L319.2,1354.8M319.2,1340.2L304.6,1354.8M311.9,1340.2L311.9,1354.8" stroke="#5B9BD5" stroke-width="2.5" fill="none"/>
<path d="M330.2,1360.7L344.8,1375.3M344.8,1360.7L330.2,1375.3M337.5,1360.7L337.5,1375.3" stroke="#5B9BD5" stroke-width="2.5" fill="none"/>
<path d="M391.8,1439.7L406.4,1454.3M406.4,1439.7L391.8,1454.3M399.1,1439.7L399.1,1454.3" stroke="#5B9BD5" stroke-width="2.5" fill="none"/>
<path d="M411.9,1449.7L426.5,1464.3M426.5,1449.7L411.9,1464.3M419.2,1449.7L419.2,1464.3" stroke="#5B9BD5" stroke-width="2.5" fill="none"/>
<path d="M448.1,1469.7L462.7,1484.3M462.7,1469.7L448.1,1484.3M455.4,1469.7L455.4,1484.3" stroke="#5B9BD5" stroke-width="2.5" fill="none"/>
<path d="M474.3,1473.2L488.9,1487.8M488.9,1473.2L474.3,1487.8M481.6,1473.2L481.6,1487.8" stroke="#5B9BD5" stroke-width="2.5" fill="none"/>
<path d="M510.7,1478.2L525.3,1492.8M525.3,1478.2L510.7,1492.8M518.0,1478.2L518.0,1492.8" stroke="#5B9BD5" stroke-width="2.5" fill="none"/>
<path d="M537.0,1479.7L551.6,1494.3M551.6,1479.7L537.0,1494.3M544.3,1479.7L544.3,1494.3" stroke="#5B9BD5" stroke-width="2.5" fill="none"/>
<path d="M573.2,1480.7L587.8,1495.3M587.8,1480.7L573.2,1495.3M580.5,1480.7L580.5,1495.3" stroke="#5B9BD5" stroke-width="2.5" fill="none"/>
<path d="M619.9,1481.7L634.5,1496.3M634.5,1481.7L619.9,1496.3M627.2,1481.7L627.2,1496.3" stroke="#5B9BD5" stroke-width="2.5" fill="none"/>
<path d="M682.3,1481.7L696.9,1496.3M696.9,1481.7L682.3,1496.3M689.6,1481.7L689.6,1496.3" stroke="#5B9BD5" stroke-width="2.5" fill="none"/>
<rect x="188.3" y="990.5" width="10" height="5.5" rx="1.5" fill="#F08A4B"/>
<rect x="216.9" y="1078.8" width="10" height="5.5" rx="1.5" fill="#F08A4B"/>
<rect x="275.3" y="1249.8" width="10" height="5.5" rx="1.5" fill="#F08A4B"/>
<rect x="310.9" y="1334.2" width="10" height="5.5" rx="1.5" fill="#F08A4B"/>
<rect x="336.5" y="1357.2" width="10" height="5.5" rx="1.5" fill="#F08A4B"/>
<rect x="398.1" y="1429.2" width="10" height="5.5" rx="1.5" fill="#F08A4B"/>
<rect x="418.2" y="1444.2" width="10" height="5.5" rx="1.5" fill="#F08A4B"/>
<rect x="454.4" y="1463.2" width="10" height="5.5" rx="1.5" fill="#F08A4B"/>
<rect x="480.6" y="1469.2" width="10" height="5.5" rx="1.5" fill="#F08A4B"/>
<rect x="517.0" y="1475.2" width="10" height="5.5" rx="1.5" fill="#F08A4B"/>
<rect x="543.3" y="1478.2" width="10" height="5.5" rx="1.5" fill="#F08A4B"/>
<rect x="579.5" y="1481.2" width="10" height="5.5" rx="1.5" fill="#F08A4B"/>
<rect x="626.2" y="1483.2" width="10" height="5.5" rx="1.5" fill="#F08A4B"/>
<rect x="688.6" y="1484.2" width="10" height="5.5" rx="1.5" fill="#F08A4B"/>
<path d="M182.1,1115.1L196.5,1129.5M196.5,1115.1L182.1,1129.5" stroke="#00B050" stroke-width="3.6" fill="none"/>
<path d="M210.7,1156.0L225.1,1170.4M225.1,1156.0L210.7,1170.4" stroke="#00B050" stroke-width="3.6" fill="none"/>
<path d="M269.1,1264.5L283.5,1278.9M283.5,1264.5L269.1,1278.9" stroke="#00B050" stroke-width="3.6" fill="none"/>
<path d="M304.7,1320.9L319.1,1335.3M319.1,1320.9L304.7,1335.3" stroke="#00B050" stroke-width="3.6" fill="none"/>
<path d="M330.3,1355.3L344.7,1369.7M344.7,1355.3L330.3,1369.7" stroke="#00B050" stroke-width="3.6" fill="none"/>
<path d="M391.9,1420.8L406.3,1435.2M406.3,1420.8L391.9,1435.2" stroke="#00B050" stroke-width="3.6" fill="none"/>
<path d="M412.0,1436.8L426.4,1451.2M426.4,1436.8L412.0,1451.2" stroke="#00B050" stroke-width="3.6" fill="none"/>
<path d="M448.2,1454.8L462.6,1469.2M462.6,1454.8L448.2,1469.2" stroke="#00B050" stroke-width="3.6" fill="none"/>
<path d="M474.4,1462.8L488.8,1477.2M488.8,1462.8L474.4,1477.2" stroke="#00B050" stroke-width="3.6" fill="none"/>
<path d="M510.8,1468.8L525.2,1483.2M525.2,1468.8L510.8,1483.2" stroke="#00B050" stroke-width="3.6" fill="none"/>
<path d="M537.1,1471.8L551.5,1486.2M551.5,1471.8L537.1,1486.2" stroke="#00B050" stroke-width="3.6" fill="none"/>
<path d="M573.3,1475.8L587.7,1490.2M587.7,1475.8L573.3,1490.2" stroke="#00B050" stroke-width="3.6" fill="none"/>
<path d="M620.0,1478.3L634.4,1492.7M634.4,1478.3L620.0,1492.7" stroke="#00B050" stroke-width="3.6" fill="none"/>
<path d="M682.4,1479.8L696.8,1494.2M696.8,1479.8L682.4,1494.2" stroke="#00B050" stroke-width="3.6" fill="none"/>
<path d="M189.3,1178.3L198.0,1195.2L180.6,1195.2Z" fill="#2F4B8A"/>
<path d="M217.9,1204.2L226.6,1221.1L209.2,1221.1Z" fill="#2F4B8A"/>
<path d="M276.3,1279.1L285.0,1296.0L267.6,1296.0Z" fill="#2F4B8A"/>
<path d="M311.9,1324.1L320.6,1341.0L303.2,1341.0Z" fill="#2F4B8A"/>
<path d="M337.5,1358.2L346.2,1375.1L328.8,1375.1Z" fill="#2F4B8A"/>
<path d="M399.1,1419.7L407.8,1436.6L390.4,1436.6Z" fill="#2F4B8A"/>
<path d="M419.2,1434.7L427.9,1451.6L410.5,1451.6Z" fill="#2F4B8A"/>
<path d="M455.4,1452.7L464.1,1469.6L446.7,1469.6Z" fill="#2F4B8A"/>
<path d="M481.6,1460.7L490.3,1477.6L472.9,1477.6Z" fill="#2F4B8A"/>
<path d="M518.0,1466.7L526.7,1483.6L509.3,1483.6Z" fill="#2F4B8A"/>
<path d="M544.3,1469.7L553.0,1486.6L535.6,1486.6Z" fill="#2F4B8A"/>
<path d="M580.5,1473.7L589.2,1490.6L571.8,1490.6Z" fill="#2F4B8A"/>
<path d="M627.2,1476.2L635.9,1493.1L618.5,1493.1Z" fill="#2F4B8A"/>
<path d="M689.6,1477.7L698.3,1494.6L680.9,1494.6Z" fill="#2F4B8A"/>
<rect x="181.7" y="1209.8" width="15.2" height="15.2" stroke="#FFC000" stroke-width="3.6" fill="none" stroke-linejoin="round"/>
<rect x="210.3" y="1231.1" width="15.2" height="15.2" stroke="#FFC000" stroke-width="3.6" fill="none" stroke-linejoin="round"/>
<rect x="268.7" y="1296.7" width="15.2" height="15.2" stroke="#FFC000" stroke-width="3.6" fill="none" stroke-linejoin="round"/>
<rect x="304.3" y="1338.5" width="15.2" height="15.2" stroke="#FFC000" stroke-width="3.6" fill="none" stroke-linejoin="round"/>
<rect x="329.9" y="1363.9" width="15.2" height="15.2" stroke="#FFC000" stroke-width="3.6" fill="none" stroke-linejoin="round"/>
<rect x="391.5" y="1421.2" width="15.2" height="15.2" stroke="#FFC000" stroke-width="3.6" fill="none" stroke-linejoin="round"/>
<rect x="411.6" y="1431.9" width="15.2" height="15.2" stroke="#FFC000" stroke-width="3.6" fill="none" stroke-linejoin="round"/>
<rect x="447.8" y="1448.4" width="15.2" height="15.2" stroke="#FFC000" stroke-width="3.6" fill="none" stroke-linejoin="round"/>
<rect x="474.0" y="1456.9" width="15.2" height="15.2" stroke="#FFC000" stroke-width="3.6" fill="none" stroke-linejoin="round"/>
<rect x="510.4" y="1466.4" width="15.2" height="15.2" stroke="#FFC000" stroke-width="3.6" fill="none" stroke-linejoin="round"/>
<rect x="536.7" y="1470.4" width="15.2" height="15.2" stroke="#FFC000" stroke-width="3.6" fill="none" stroke-linejoin="round"/>
<rect x="572.9" y="1474.4" width="15.2" height="15.2" stroke="#FFC000" stroke-width="3.6" fill="none" stroke-linejoin="round"/>
<rect x="619.6" y="1477.6" width="15.2" height="15.2" stroke="#FFC000" stroke-width="3.6" fill="none" stroke-linejoin="round"/>
<rect x="682.0" y="1479.2" width="15.2" height="15.2" stroke="#FFC000" stroke-width="3.6" fill="none" stroke-linejoin="round"/>
<path d="M189.3,1258.8L196.5,1266.0L189.3,1273.2L182.1,1266.0Z" stroke="#7297DA" stroke-width="2.8" fill="#FF0000"/>
<path d="M217.9,1294.8L225.1,1302.0L217.9,1309.2L210.7,1302.0Z" stroke="#7297DA" stroke-width="2.8" fill="#FF0000"/>
<path d="M276.3,1346.5L283.5,1353.7L276.3,1360.9L269.1,1353.7Z" stroke="#7297DA" stroke-width="2.8" fill="#FF0000"/>
<path d="M311.9,1371.2L319.1,1378.4L311.9,1385.6L304.7,1378.4Z" stroke="#7297DA" stroke-width="2.8" fill="#FF0000"/>
<path d="M337.5,1387.9L344.7,1395.1L337.5,1402.3L330.3,1395.1Z" stroke="#7297DA" stroke-width="2.8" fill="#FF0000"/>
<path d="M399.1,1426.8L406.3,1434.0L399.1,1441.2L391.9,1434.0Z" stroke="#7297DA" stroke-width="2.8" fill="#FF0000"/>
<path d="M419.2,1438.8L426.4,1446.0L419.2,1453.2L412.0,1446.0Z" stroke="#7297DA" stroke-width="2.8" fill="#FF0000"/>
<path d="M455.4,1452.8L462.6,1460.0L455.4,1467.2L448.2,1460.0Z" stroke="#7297DA" stroke-width="2.8" fill="#FF0000"/>
<path d="M481.6,1460.8L488.8,1468.0L481.6,1475.2L474.4,1468.0Z" stroke="#7297DA" stroke-width="2.8" fill="#FF0000"/>
<path d="M518.0,1467.8L525.2,1475.0L518.0,1482.2L510.8,1475.0Z" stroke="#7297DA" stroke-width="2.8" fill="#FF0000"/>
<path d="M544.3,1470.8L551.5,1478.0L544.3,1485.2L537.1,1478.0Z" stroke="#7297DA" stroke-width="2.8" fill="#FF0000"/>
<path d="M580.5,1474.8L587.7,1482.0L580.5,1489.2L573.3,1482.0Z" stroke="#7297DA" stroke-width="2.8" fill="#FF0000"/>
<path d="M627.2,1477.8L634.4,1485.0L627.2,1492.2L620.0,1485.0Z" stroke="#7297DA" stroke-width="2.8" fill="#FF0000"/>
<path d="M689.6,1479.6L696.8,1486.8L689.6,1494.0L682.4,1486.8Z" stroke="#7297DA" stroke-width="2.8" fill="#FF0000"/>
<circle cx="189.3" cy="1300.8" r="7.4" stroke="#3A7DC9" stroke-width="3.6" fill="none"/>
<circle cx="217.9" cy="1326.9" r="7.4" stroke="#3A7DC9" stroke-width="3.6" fill="none"/>
<circle cx="276.3" cy="1365.5" r="7.4" stroke="#3A7DC9" stroke-width="3.6" fill="none"/>
<circle cx="311.9" cy="1389.0" r="7.4" stroke="#3A7DC9" stroke-width="3.6" fill="none"/>
<circle cx="337.5" cy="1402.6" r="7.4" stroke="#3A7DC9" stroke-width="3.6" fill="none"/>
<circle cx="399.1" cy="1433.5" r="7.4" stroke="#3A7DC9" stroke-width="3.6" fill="none"/>
<circle cx="419.2" cy="1440.8" r="7.4" stroke="#3A7DC9" stroke-width="3.6" fill="none"/>
<circle cx="455.4" cy="1454.3" r="7.4" stroke="#3A7DC9" stroke-width="3.6" fill="none"/>
<circle cx="481.6" cy="1463.0" r="7.4" stroke="#3A7DC9" stroke-width="3.6" fill="none"/>
<circle cx="518.0" cy="1471.7" r="7.4" stroke="#3A7DC9" stroke-width="3.6" fill="none"/>
<circle cx="544.3" cy="1476.0" r="7.4" stroke="#3A7DC9" stroke-width="3.6" fill="none"/>
<circle cx="580.5" cy="1481.0" r="7.4" stroke="#3A7DC9" stroke-width="3.6" fill="none"/>
<circle cx="627.2" cy="1484.5" r="7.4" stroke="#3A7DC9" stroke-width="3.6" fill="none"/>
<circle cx="689.6" cy="1486.5" r="7.4" stroke="#3A7DC9" stroke-width="3.6" fill="none"/>
<rect x="181.3" y="1333.3" width="16" height="5.5" rx="1" fill="#3F63B0"/>
<rect x="209.9" y="1355.3" width="16" height="5.5" rx="1" fill="#3F63B0"/>
<rect x="268.3" y="1389.8" width="16" height="5.5" rx="1" fill="#3F63B0"/>
<rect x="303.9" y="1406.8" width="16" height="5.5" rx="1" fill="#3F63B0"/>
<rect x="329.5" y="1417.5" width="16" height="5.5" rx="1" fill="#3F63B0"/>
<rect x="391.1" y="1439.5" width="16" height="5.5" rx="1" fill="#3F63B0"/>
<rect x="411.2" y="1447.2" width="16" height="5.5" rx="1" fill="#3F63B0"/>
<rect x="447.4" y="1459.2" width="16" height="5.5" rx="1" fill="#3F63B0"/>
<rect x="473.6" y="1466.2" width="16" height="5.5" rx="1" fill="#3F63B0"/>
<rect x="510.0" y="1473.2" width="16" height="5.5" rx="1" fill="#3F63B0"/>
<rect x="536.3" y="1476.2" width="16" height="5.5" rx="1" fill="#3F63B0"/>
<rect x="572.5" y="1480.2" width="16" height="5.5" rx="1" fill="#3F63B0"/>
<rect x="619.2" y="1482.8" width="16" height="5.5" rx="1" fill="#3F63B0"/>
<rect x="681.6" y="1484.2" width="16" height="5.5" rx="1" fill="#3F63B0"/>
<path d="M181.6,1363.0L197.0,1363.0M189.3,1355.3L189.3,1370.7" stroke="#1F3864" stroke-width="2.6" fill="none"/>
<path d="M210.2,1379.6L225.6,1379.6M217.9,1371.9L217.9,1387.3" stroke="#1F3864" stroke-width="2.6" fill="none"/>
<path d="M268.6,1407.1L284.0,1407.1M276.3,1399.4L276.3,1414.8" stroke="#1F3864" stroke-width="2.6" fill="none"/>
<path d="M304.2,1422.0L319.6,1422.0M311.9,1414.3L311.9,1429.7" stroke="#1F3864" stroke-width="2.6" fill="none"/>
<path d="M329.8,1430.8L345.2,1430.8M337.5,1423.1L337.5,1438.5" stroke="#1F3864" stroke-width="2.6" fill="none"/>
<path d="M391.4,1448.0L406.8,1448.0M399.1,1440.3L399.1,1455.7" stroke="#1F3864" stroke-width="2.6" fill="none"/>
<path d="M411.5,1454.0L426.9,1454.0M419.2,1446.3L419.2,1461.7" stroke="#1F3864" stroke-width="2.6" fill="none"/>
<path d="M447.7,1464.0L463.1,1464.0M455.4,1456.3L455.4,1471.7" stroke="#1F3864" stroke-width="2.6" fill="none"/>
<path d="M473.9,1470.0L489.3,1470.0M481.6,1462.3L481.6,1477.7" stroke="#1F3864" stroke-width="2.6" fill="none"/>
<path d="M510.3,1476.0L525.7,1476.0M518.0,1468.3L518.0,1483.7" stroke="#1F3864" stroke-width="2.6" fill="none"/>
<path d="M536.6,1479.0L552.0,1479.0M544.3,1471.3L544.3,1486.7" stroke="#1F3864" stroke-width="2.6" fill="none"/>
<path d="M572.8,1483.0L588.2,1483.0M580.5,1475.3L580.5,1490.7" stroke="#1F3864" stroke-width="2.6" fill="none"/>
<path d="M619.5,1485.5L634.9,1485.5M627.2,1477.8L627.2,1493.2" stroke="#1F3864" stroke-width="2.6" fill="none"/>
<path d="M681.9,1487.0L697.3,1487.0M689.6,1479.3L689.6,1494.7" stroke="#1F3864" stroke-width="2.6" fill="none"/>
<path d="M189.3,1374.9L196.9,1382.5L189.3,1390.1L181.7,1382.5Z" stroke="#C00000" stroke-width="3.2" fill="none"/>
<path d="M217.9,1387.5L225.5,1395.1L217.9,1402.7L210.3,1395.1Z" stroke="#C00000" stroke-width="3.2" fill="none"/>
<path d="M276.3,1409.1L283.9,1416.7L276.3,1424.3L268.7,1416.7Z" stroke="#C00000" stroke-width="3.2" fill="none"/>
<path d="M311.9,1421.4L319.5,1429.0L311.9,1436.6L304.3,1429.0Z" stroke="#C00000" stroke-width="3.2" fill="none"/>
<path d="M337.5,1428.5L345.1,1436.1L337.5,1443.7L329.9,1436.1Z" stroke="#C00000" stroke-width="3.2" fill="none"/>
<path d="M399.1,1445.3L406.7,1452.9L399.1,1460.5L391.5,1452.9Z" stroke="#C00000" stroke-width="3.2" fill="none"/>
<path d="M419.2,1448.0L426.8,1455.6L419.2,1463.2L411.6,1455.6Z" stroke="#C00000" stroke-width="3.2" fill="none"/>
<path d="M455.4,1457.4L463.0,1465.0L455.4,1472.6L447.8,1465.0Z" stroke="#C00000" stroke-width="3.2" fill="none"/>
<path d="M481.6,1463.4L489.2,1471.0L481.6,1478.6L474.0,1471.0Z" stroke="#C00000" stroke-width="3.2" fill="none"/>
<path d="M518.0,1468.4L525.6,1476.0L518.0,1483.6L510.4,1476.0Z" stroke="#C00000" stroke-width="3.2" fill="none"/>
<path d="M544.3,1471.4L551.9,1479.0L544.3,1486.6L536.7,1479.0Z" stroke="#C00000" stroke-width="3.2" fill="none"/>
<path d="M580.5,1475.4L588.1,1483.0L580.5,1490.6L572.9,1483.0Z" stroke="#C00000" stroke-width="3.2" fill="none"/>
<path d="M627.2,1477.9L634.8,1485.5L627.2,1493.1L619.6,1485.5Z" stroke="#C00000" stroke-width="3.2" fill="none"/>
<path d="M689.6,1479.4L697.2,1487.0L689.6,1494.6L682.0,1487.0Z" stroke="#C00000" stroke-width="3.2" fill="none"/>
<path d="M189.3,1403.1L196.9,1419.1L181.7,1419.1Z" stroke="#8C8C8C" stroke-width="3.5" fill="none" stroke-linejoin="round"/>
<path d="M217.9,1410.7L225.5,1426.7L210.3,1426.7Z" stroke="#8C8C8C" stroke-width="3.5" fill="none" stroke-linejoin="round"/>
<path d="M276.3,1424.8L283.9,1440.8L268.7,1440.8Z" stroke="#8C8C8C" stroke-width="3.5" fill="none" stroke-linejoin="round"/>
<path d="M311.9,1434.3L319.5,1450.3L304.3,1450.3Z" stroke="#8C8C8C" stroke-width="3.5" fill="none" stroke-linejoin="round"/>
<path d="M337.5,1439.3L345.1,1455.3L329.9,1455.3Z" stroke="#8C8C8C" stroke-width="3.5" fill="none" stroke-linejoin="round"/>
<path d="M399.1,1449.5L406.7,1465.5L391.5,1465.5Z" stroke="#8C8C8C" stroke-width="3.5" fill="none" stroke-linejoin="round"/>
<path d="M419.2,1453.5L426.8,1469.5L411.6,1469.5Z" stroke="#8C8C8C" stroke-width="3.5" fill="none" stroke-linejoin="round"/>
<path d="M455.4,1458.2L463.0,1474.2L447.8,1474.2Z" stroke="#8C8C8C" stroke-width="3.5" fill="none" stroke-linejoin="round"/>
<path d="M481.6,1461.6L489.2,1477.6L474.0,1477.6Z" stroke="#8C8C8C" stroke-width="3.5" fill="none" stroke-linejoin="round"/>
<path d="M518.0,1465.9L525.6,1481.9L510.4,1481.9Z" stroke="#8C8C8C" stroke-width="3.5" fill="none" stroke-linejoin="round"/>
<path d="M544.3,1469.2L551.9,1485.2L536.7,1485.2Z" stroke="#8C8C8C" stroke-width="3.5" fill="none" stroke-linejoin="round"/>
<path d="M580.5,1473.2L588.1,1489.2L572.9,1489.2Z" stroke="#8C8C8C" stroke-width="3.5" fill="none" stroke-linejoin="round"/>
<path d="M627.2,1476.4L634.8,1492.4L619.6,1492.4Z" stroke="#8C8C8C" stroke-width="3.5" fill="none" stroke-linejoin="round"/>
<path d="M689.6,1478.0L697.2,1494.0L682.0,1494.0Z" stroke="#8C8C8C" stroke-width="3.5" fill="none" stroke-linejoin="round"/>
<text transform="translate(325.4,890.7) scale(1.01,1.04)" font-size="33.5" text-anchor="start" font-weight="bold" fill="#000" stroke="#000" stroke-width="0.45">374</text>
<path d="M300.7,871.9L315.3,886.5M315.3,871.9L300.7,886.5M308.0,871.9L308.0,886.5" stroke="#5B9BD5" stroke-width="2.5" fill="none"/>
<text transform="translate(437.0,890.7) scale(1.01,1.04)" font-size="33.5" text-anchor="start" font-weight="bold" fill="#000" stroke="#000" stroke-width="0.45">378</text>
<rect x="418.3" y="876.5" width="10" height="5.5" rx="1.5" fill="#F08A4B"/>
<text transform="translate(549.0,890.7) scale(1.01,1.04)" font-size="33.5" text-anchor="start" font-weight="bold" fill="#000" stroke="#000" stroke-width="0.45">384</text>
<path d="M524.8,872.0L539.2,886.4M539.2,872.0L524.8,886.4" stroke="#00B050" stroke-width="3.6" fill="none"/>
<text transform="translate(660.4,890.7) scale(1.01,1.04)" font-size="33.5" text-anchor="start" font-weight="bold" fill="#000" stroke="#000" stroke-width="0.45">386</text>
<path d="M643.7,869.9L652.4,886.8L635.0,886.8Z" fill="#2F4B8A"/>
<text transform="translate(325.4,950.5) scale(1.01,1.04)" font-size="33.5" text-anchor="start" font-weight="bold" fill="#000" stroke="#000" stroke-width="0.45">388</text>
<rect x="300.4" y="931.4" width="15.2" height="15.2" stroke="#FFC000" stroke-width="3.6" fill="none" stroke-linejoin="round"/>
<text transform="translate(437.0,950.5) scale(1.01,1.04)" font-size="33.5" text-anchor="start" font-weight="bold" fill="#000" stroke="#000" stroke-width="0.45">393</text>
<path d="M420.3,931.8L427.5,939.0L420.3,946.2L413.1,939.0Z" stroke="#7297DA" stroke-width="2.8" fill="#FF0000"/>
<text transform="translate(549.0,950.5) scale(1.01,1.04)" font-size="33.5" text-anchor="start" font-weight="bold" fill="#000" stroke="#000" stroke-width="0.45">394</text>
<circle cx="532.0" cy="939.0" r="7.4" stroke="#3A7DC9" stroke-width="3.6" fill="none"/>
<text transform="translate(660.4,950.5) scale(1.01,1.04)" font-size="33.5" text-anchor="start" font-weight="bold" fill="#000" stroke="#000" stroke-width="0.45">398</text>
<rect x="635.7" y="936.2" width="16" height="5.5" rx="1" fill="#3F63B0"/>
<text transform="translate(325.4,1010.6) scale(1.01,1.04)" font-size="33.5" text-anchor="start" font-weight="bold" fill="#000" stroke="#000" stroke-width="0.45">406</text>
<path d="M300.3,999.1L315.7,999.1M308.0,991.4L308.0,1006.8" stroke="#1F3864" stroke-width="2.6" fill="none"/>
<text transform="translate(437.0,1010.6) scale(1.01,1.04)" font-size="33.5" text-anchor="start" font-weight="bold" fill="#000" stroke="#000" stroke-width="0.45">410</text>
<path d="M420.3,991.5L427.9,999.1L420.3,1006.7L412.7,999.1Z" stroke="#C00000" stroke-width="3.2" fill="none"/>
<text transform="translate(549.0,1010.6) scale(1.01,1.04)" font-size="33.5" text-anchor="start" font-weight="bold" fill="#000" stroke="#000" stroke-width="0.45">414</text>
<path d="M532.0,990.3L539.6,1006.3L524.4,1006.3Z" stroke="#8C8C8C" stroke-width="3.5" fill="none" stroke-linejoin="round"/>
<text transform="translate(628.5,1010.6) scale(1.01,1.04)" font-size="33.5" text-anchor="start" font-weight="bold" fill="#000" stroke="#000" stroke-width="0.45">K</text>
<line x1="918.0" y1="856.9" x2="918.0" y2="1488.8" stroke="#000" stroke-width="2" />
<line x1="917.0" y1="1478.3" x2="1454.5" y2="1478.3" stroke="#000" stroke-width="2" />
<line x1="907.5" y1="1478.3" x2="918.0" y2="1478.3" stroke="#000" stroke-width="2" />
<text transform="translate(886.6,1489.8) scale(1.01,1.04)" font-size="35" text-anchor="end" font-weight="bold" fill="#000" stroke="#000" stroke-width="0.45">0.0E+00</text>
<line x1="907.5" y1="1323.0" x2="918.0" y2="1323.0" stroke="#000" stroke-width="2" />
<text transform="translate(886.6,1334.5) scale(1.01,1.04)" font-size="35" text-anchor="end" font-weight="bold" fill="#000" stroke="#000" stroke-width="0.45">1.0E+08</text>
<line x1="907.5" y1="1167.6" x2="918.0" y2="1167.6" stroke="#000" stroke-width="2" />
<text transform="translate(886.6,1179.1) scale(1.01,1.04)" font-size="35" text-anchor="end" font-weight="bold" fill="#000" stroke="#000" stroke-width="0.45">2.0E+08</text>
<line x1="907.5" y1="1012.2" x2="918.0" y2="1012.2" stroke="#000" stroke-width="2" />
<text transform="translate(886.6,1023.8) scale(1.01,1.04)" font-size="35" text-anchor="end" font-weight="bold" fill="#000" stroke="#000" stroke-width="0.45">3.0E+08</text>
<line x1="907.5" y1="856.9" x2="918.0" y2="856.9" stroke="#000" stroke-width="2" />
<text transform="translate(886.6,868.4) scale(1.01,1.04)" font-size="35" text-anchor="end" font-weight="bold" fill="#000" stroke="#000" stroke-width="0.45">4.0E+08</text>
<line x1="918.0" y1="1478.3" x2="918.0" y2="1488.8" stroke="#000" stroke-width="2" />
<text transform="translate(918.0,1531.6) scale(1.01,1.04)" font-size="35" text-anchor="middle" font-weight="bold" fill="#000" stroke="#000" stroke-width="0.45">6</text>
<line x1="1096.5" y1="1478.3" x2="1096.5" y2="1488.8" stroke="#000" stroke-width="2" />
<text transform="translate(1096.5,1531.6) scale(1.01,1.04)" font-size="35" text-anchor="middle" font-weight="bold" fill="#000" stroke="#000" stroke-width="0.45">8</text>
<line x1="1275.0" y1="1478.3" x2="1275.0" y2="1488.8" stroke="#000" stroke-width="2" />
<text transform="translate(1275.0,1531.6) scale(1.01,1.04)" font-size="35" text-anchor="middle" font-weight="bold" fill="#000" stroke="#000" stroke-width="0.45">10</text>
<line x1="1453.5" y1="1478.3" x2="1453.5" y2="1488.8" stroke="#000" stroke-width="2" />
<text transform="translate(1453.5,1531.6) scale(1.01,1.04)" font-size="35" text-anchor="middle" font-weight="bold" fill="#000" stroke="#000" stroke-width="0.45">12</text>
<text transform="translate(771.0,1562.0) scale(1.01,1.04)" font-size="35" text-anchor="start" font-weight="bold" fill="#000" stroke="#000" stroke-width="0.45">f.</text>
<text transform="translate(1109.3,1572.6) scale(1.02,1.025)" font-size="35" font-weight="bold" stroke="#000" stroke-width="0.45">ln [<tspan font-family="Liberation Serif" font-weight="normal" font-size="37" stroke-width="0.3">&#969;</tspan>(s<tspan font-size="21" dy="-11.5">-1</tspan><tspan dy="11.5">)]</tspan></text>
<text x="0" y="0" font-size="35" font-weight="bold" stroke="#000" stroke-width="0.45" transform="translate(789,1121) rotate(-90) scale(1.01,1.04)">Z"</text>
<polyline points="918.0,927.0 937.2,1012.0 966.0,1114.0 1023.4,1221.0 1058.1,1283.0 1083.0,1318.0 1110.0,1352.0 1143.7,1387.0 1163.2,1404.0 1199.1,1425.0 1224.6,1436.0 1260.6,1449.0 1286.4,1455.5 1322.4,1462.0 1367.6,1468.5 1429.5,1474.0 1453.0,1475.5" fill="none" stroke="#FF0000" stroke-width="3.2" stroke-linejoin="round" stroke-linecap="round" />
<polyline points="918.0,1114.3 937.2,1160.2 965.2,1207.1 1023.4,1270.6 1058.2,1310.0 1083.0,1335.0 1110.0,1363.0 1143.7,1393.0 1163.2,1408.0 1199.1,1428.0 1224.6,1438.0 1260.6,1450.0 1286.4,1456.0 1322.4,1463.0 1367.6,1469.0 1429.5,1474.5 1453.0,1476.0" fill="none" stroke="#FF0000" stroke-width="3.2" stroke-linejoin="round" stroke-linecap="round" />
<polyline points="918.0,1146.6 937.2,1189.0 965.2,1231.3 1023.4,1296.3 1058.2,1329.0 1083.0,1349.0 1110.0,1371.0 1143.7,1397.0 1163.2,1410.0 1199.1,1429.0 1224.6,1439.0 1260.6,1450.5 1286.4,1456.5 1322.4,1463.0 1367.6,1469.0 1429.5,1474.5 1453.0,1476.0" fill="none" stroke="#FF0000" stroke-width="3.2" stroke-linejoin="round" stroke-linecap="round" />
<polyline points="917.4,1282.7 948.9,1315.6 963.7,1326.3 1023.3,1354.5 1058.2,1367.3 1083.0,1377.3 1110.0,1393.4 1143.7,1410.0 1163.2,1419.0 1199.1,1434.0 1224.6,1442.0 1260.6,1453.0 1286.4,1458.5 1322.4,1464.5 1367.6,1470.0 1429.5,1475.0 1453.0,1476.5" fill="none" stroke="#FF0000" stroke-width="3.2" stroke-linejoin="round" stroke-linecap="round" />
<polyline points="937.5,1352.5 966.1,1370.0 1023.3,1392.1 1058.2,1402.8 1083.0,1408.2 1110.0,1414.9 1143.7,1423.0 1163.2,1428.0 1199.1,1437.0 1224.6,1444.0 1260.6,1455.0 1286.4,1460.0 1322.4,1465.5 1367.6,1470.5 1429.5,1475.0 1453.0,1476.5" fill="none" stroke="#FF0000" stroke-width="3.2" stroke-linejoin="round" stroke-linecap="round" />
<polyline points="917.4,1372.0 937.5,1377.3 966.1,1388.0 1023.3,1406.8 1058.2,1416.2 1110.0,1425.6 1143.7,1432.0 1163.2,1436.0 1199.1,1444.0 1224.6,1450.0 1260.6,1458.0 1286.4,1462.5 1322.4,1467.0 1367.6,1471.5 1429.5,1475.5 1453.0,1476.8" fill="none" stroke="#FF0000" stroke-width="3.2" stroke-linejoin="round" stroke-linecap="round" />
<polyline points="937.5,1406.2 966.1,1413.5 1023.3,1426.9 1058.2,1434.3 1110.0,1443.0 1143.7,1447.0 1163.2,1449.5 1199.1,1453.5 1224.6,1456.5 1260.6,1462.0 1286.4,1465.0 1322.4,1469.0 1367.6,1472.5 1429.5,1476.0 1453.0,1477.0" fill="none" stroke="#FF0000" stroke-width="3.2" stroke-linejoin="round" stroke-linecap="round" />
<polyline points="937.5,1422.3 966.1,1428.0 1023.3,1438.5 1058.2,1444.5 1110.0,1451.1 1143.7,1454.5 1163.2,1456.0 1199.1,1459.5 1224.6,1461.5 1260.6,1465.0 1286.4,1467.5 1322.4,1470.5 1367.6,1473.5 1429.5,1476.5 1453.0,1477.3" fill="none" stroke="#FF0000" stroke-width="3.2" stroke-linejoin="round" stroke-linecap="round" />
<polyline points="917.4,1440.4 966.1,1444.0 1023.3,1449.0 1058.2,1452.0 1110.0,1455.1 1143.7,1457.5 1163.2,1459.0 1199.1,1461.5 1224.6,1463.5 1260.6,1466.5 1286.4,1468.5 1322.4,1471.0 1367.6,1474.0 1429.5,1476.8 1453.0,1477.5" fill="none" stroke="#FF0000" stroke-width="3.2" stroke-linejoin="round" stroke-linecap="round" />
<polyline points="937.5,1453.1 966.1,1453.5 1023.3,1455.0 1058.2,1456.5 1110.0,1459.1 1143.7,1461.5 1163.2,1462.8 1199.1,1464.5 1224.6,1466.0 1260.6,1468.5 1286.4,1470.0 1322.4,1472.0 1367.6,1474.5 1429.5,1477.0 1453.0,1477.7" fill="none" stroke="#FF0000" stroke-width="3.2" stroke-linejoin="round" stroke-linecap="round" />
<polyline points="917.4,1466.5 966.1,1465.0 1023.3,1463.8 1058.2,1463.0 1110.0,1462.5 1143.7,1463.0 1163.2,1464.0 1199.1,1466.0 1224.6,1467.5 1260.6,1469.5 1286.4,1471.0 1322.4,1473.0 1367.6,1475.0 1429.5,1477.3 1453.0,1478.0" fill="none" stroke="#FF0000" stroke-width="3.2" stroke-linejoin="round" stroke-linecap="round" />
<path d="M930.2,1005.5L944.8,1020.1M944.8,1005.5L930.2,1020.1M937.5,1005.5L937.5,1020.1" stroke="#00B0F0" stroke-width="2.5" fill="none"/>
<path d="M958.8,1108.3L973.4,1122.9M973.4,1108.3L958.8,1122.9M966.1,1108.3L966.1,1122.9" stroke="#00B0F0" stroke-width="2.5" fill="none"/>
<path d="M1016.0,1214.6L1030.6,1229.2M1030.6,1214.6L1016.0,1229.2M1023.3,1214.6L1023.3,1229.2" stroke="#00B0F0" stroke-width="2.5" fill="none"/>
<path d="M1050.9,1277.5L1065.5,1292.1M1065.5,1277.5L1050.9,1292.1M1058.2,1277.5L1058.2,1292.1" stroke="#00B0F0" stroke-width="2.5" fill="none"/>
<path d="M1075.9,1312.3L1090.5,1326.9M1090.5,1312.3L1075.9,1326.9M1083.2,1312.3L1083.2,1326.9" stroke="#00B0F0" stroke-width="2.5" fill="none"/>
<path d="M1136.4,1381.5L1151.0,1396.1M1151.0,1381.5L1136.4,1396.1M1143.7,1381.5L1143.7,1396.1" stroke="#00B0F0" stroke-width="2.5" fill="none"/>
<path d="M1155.9,1398.3L1170.5,1412.9M1170.5,1398.3L1155.9,1412.9M1163.2,1398.3L1163.2,1412.9" stroke="#00B0F0" stroke-width="2.5" fill="none"/>
<path d="M1191.8,1418.4L1206.4,1433.0M1206.4,1418.4L1191.8,1433.0M1199.1,1418.4L1199.1,1433.0" stroke="#00B0F0" stroke-width="2.5" fill="none"/>
<path d="M1217.3,1427.8L1231.9,1442.4M1231.9,1427.8L1217.3,1442.4M1224.6,1427.8L1224.6,1442.4" stroke="#00B0F0" stroke-width="2.5" fill="none"/>
<path d="M1253.3,1441.2L1267.9,1455.8M1267.9,1441.2L1253.3,1455.8M1260.6,1441.2L1260.6,1455.8" stroke="#00B0F0" stroke-width="2.5" fill="none"/>
<path d="M1279.1,1447.7L1293.7,1462.3M1293.7,1447.7L1279.1,1462.3M1286.4,1447.7L1286.4,1462.3" stroke="#00B0F0" stroke-width="2.5" fill="none"/>
<path d="M1315.1,1454.7L1329.7,1469.3M1329.7,1454.7L1315.1,1469.3M1322.4,1454.7L1322.4,1469.3" stroke="#00B0F0" stroke-width="2.5" fill="none"/>
<path d="M1360.3,1460.7L1374.9,1475.3M1374.9,1460.7L1360.3,1475.3M1367.6,1460.7L1367.6,1475.3" stroke="#00B0F0" stroke-width="2.5" fill="none"/>
<path d="M1422.2,1466.7L1436.8,1481.3M1436.8,1466.7L1422.2,1481.3M1429.5,1466.7L1429.5,1481.3" stroke="#00B0F0" stroke-width="2.5" fill="none"/>
<rect x="936.5" y="1141.7" width="10" height="5.5" rx="1.5" fill="#FFC000"/>
<rect x="965.1" y="1196.8" width="10" height="5.5" rx="1.5" fill="#FFC000"/>
<rect x="1022.3" y="1268.7" width="10" height="5.5" rx="1.5" fill="#FFC000"/>
<rect x="1057.2" y="1312.2" width="10" height="5.5" rx="1.5" fill="#FFC000"/>
<rect x="1082.2" y="1338.0" width="10" height="5.5" rx="1.5" fill="#FFC000"/>
<rect x="1142.7" y="1395.2" width="10" height="5.5" rx="1.5" fill="#FFC000"/>
<rect x="1162.2" y="1409.2" width="10" height="5.5" rx="1.5" fill="#FFC000"/>
<rect x="1198.1" y="1429.2" width="10" height="5.5" rx="1.5" fill="#FFC000"/>
<rect x="1223.6" y="1438.2" width="10" height="5.5" rx="1.5" fill="#FFC000"/>
<rect x="1259.6" y="1449.2" width="10" height="5.5" rx="1.5" fill="#FFC000"/>
<rect x="1285.4" y="1455.2" width="10" height="5.5" rx="1.5" fill="#FFC000"/>
<rect x="1321.4" y="1461.2" width="10" height="5.5" rx="1.5" fill="#FFC000"/>
<rect x="1366.6" y="1466.2" width="10" height="5.5" rx="1.5" fill="#FFC000"/>
<rect x="1428.5" y="1471.8" width="10" height="5.5" rx="1.5" fill="#FFC000"/>
<path d="M930.3,1190.8L944.7,1205.2M944.7,1190.8L930.3,1205.2" stroke="#70AD47" stroke-width="3.6" fill="none"/>
<path d="M958.9,1227.9L973.3,1242.3M973.3,1227.9L958.9,1242.3" stroke="#70AD47" stroke-width="3.6" fill="none"/>
<path d="M1016.1,1288.3L1030.5,1302.7M1030.5,1288.3L1016.1,1302.7" stroke="#70AD47" stroke-width="3.6" fill="none"/>
<path d="M1051.0,1323.2L1065.4,1337.6M1065.4,1323.2L1051.0,1337.6" stroke="#70AD47" stroke-width="3.6" fill="none"/>
<path d="M1076.0,1345.3L1090.4,1359.7M1090.4,1345.3L1076.0,1359.7" stroke="#70AD47" stroke-width="3.6" fill="none"/>
<path d="M1136.5,1394.4L1150.9,1408.8M1150.9,1394.4L1136.5,1408.8" stroke="#70AD47" stroke-width="3.6" fill="none"/>
<path d="M1156.0,1405.8L1170.4,1420.2M1170.4,1405.8L1156.0,1420.2" stroke="#70AD47" stroke-width="3.6" fill="none"/>
<path d="M1191.9,1422.8L1206.3,1437.2M1206.3,1422.8L1191.9,1437.2" stroke="#70AD47" stroke-width="3.6" fill="none"/>
<path d="M1217.4,1432.8L1231.8,1447.2M1231.8,1432.8L1217.4,1447.2" stroke="#70AD47" stroke-width="3.6" fill="none"/>
<path d="M1253.4,1443.8L1267.8,1458.2M1267.8,1443.8L1253.4,1458.2" stroke="#70AD47" stroke-width="3.6" fill="none"/>
<path d="M1279.2,1449.8L1293.6,1464.2M1293.6,1449.8L1279.2,1464.2" stroke="#70AD47" stroke-width="3.6" fill="none"/>
<path d="M1315.2,1455.8L1329.6,1470.2M1329.6,1455.8L1315.2,1470.2" stroke="#70AD47" stroke-width="3.6" fill="none"/>
<path d="M1360.4,1461.8L1374.8,1476.2M1374.8,1461.8L1360.4,1476.2" stroke="#70AD47" stroke-width="3.6" fill="none"/>
<path d="M1422.3,1467.3L1436.7,1481.7M1436.7,1467.3L1422.3,1481.7" stroke="#70AD47" stroke-width="3.6" fill="none"/>
<path d="M937.5,1298.3L946.2,1315.2L928.8,1315.2Z" fill="#002060"/>
<path d="M966.1,1307.0L974.8,1323.9L957.4,1323.9Z" fill="#002060"/>
<path d="M1023.3,1338.5L1032.0,1355.4L1014.6,1355.4Z" fill="#002060"/>
<path d="M1058.2,1359.3L1066.9,1376.2L1049.5,1376.2Z" fill="#002060"/>
<path d="M1083.2,1371.4L1091.9,1388.3L1074.5,1388.3Z" fill="#002060"/>
<path d="M1143.7,1401.7L1152.4,1418.6L1135.0,1418.6Z" fill="#002060"/>
<path d="M1163.2,1411.1L1171.9,1428.0L1154.5,1428.0Z" fill="#002060"/>
<path d="M1199.1,1426.7L1207.8,1443.6L1190.4,1443.6Z" fill="#002060"/>
<path d="M1224.6,1434.7L1233.3,1451.6L1215.9,1451.6Z" fill="#002060"/>
<path d="M1260.6,1444.7L1269.3,1461.6L1251.9,1461.6Z" fill="#002060"/>
<path d="M1286.4,1449.7L1295.1,1466.6L1277.7,1466.6Z" fill="#002060"/>
<path d="M1322.4,1455.7L1331.1,1472.6L1313.7,1472.6Z" fill="#002060"/>
<path d="M1367.6,1460.7L1376.3,1477.6L1358.9,1477.6Z" fill="#002060"/>
<path d="M1429.5,1465.7L1438.2,1482.6L1420.8,1482.6Z" fill="#002060"/>
<rect x="929.9" y="1340.9" width="15.2" height="15.2" stroke="#FFC000" stroke-width="3.6" fill="none" stroke-linejoin="round"/>
<rect x="958.5" y="1360.3" width="15.2" height="15.2" stroke="#FFC000" stroke-width="3.6" fill="none" stroke-linejoin="round"/>
<rect x="1015.7" y="1377.1" width="15.2" height="15.2" stroke="#FFC000" stroke-width="3.6" fill="none" stroke-linejoin="round"/>
<rect x="1050.6" y="1389.2" width="15.2" height="15.2" stroke="#FFC000" stroke-width="3.6" fill="none" stroke-linejoin="round"/>
<rect x="1075.6" y="1396.5" width="15.2" height="15.2" stroke="#FFC000" stroke-width="3.6" fill="none" stroke-linejoin="round"/>
<rect x="1136.1" y="1416.8" width="15.2" height="15.2" stroke="#FFC000" stroke-width="3.6" fill="none" stroke-linejoin="round"/>
<rect x="1155.6" y="1421.5" width="15.2" height="15.2" stroke="#FFC000" stroke-width="3.6" fill="none" stroke-linejoin="round"/>
<rect x="1191.5" y="1430.2" width="15.2" height="15.2" stroke="#FFC000" stroke-width="3.6" fill="none" stroke-linejoin="round"/>
<rect x="1217.0" y="1438.2" width="15.2" height="15.2" stroke="#FFC000" stroke-width="3.6" fill="none" stroke-linejoin="round"/>
<rect x="1253.0" y="1449.5" width="15.2" height="15.2" stroke="#FFC000" stroke-width="3.6" fill="none" stroke-linejoin="round"/>
<rect x="1278.8" y="1453.6" width="15.2" height="15.2" stroke="#FFC000" stroke-width="3.6" fill="none" stroke-linejoin="round"/>
<rect x="1314.8" y="1458.4" width="15.2" height="15.2" stroke="#FFC000" stroke-width="3.6" fill="none" stroke-linejoin="round"/>
<rect x="1360.0" y="1463.2" width="15.2" height="15.2" stroke="#FFC000" stroke-width="3.6" fill="none" stroke-linejoin="round"/>
<rect x="1421.9" y="1466.4" width="15.2" height="15.2" stroke="#FFC000" stroke-width="3.6" fill="none" stroke-linejoin="round"/>
<path d="M937.5,1380.8L944.7,1388.0L937.5,1395.2L930.3,1388.0Z" stroke="#FF0000" stroke-width="2.8" fill="#FF0000"/>
<path d="M966.1,1377.5L973.3,1384.7L966.1,1391.9L958.9,1384.7Z" stroke="#FF0000" stroke-width="2.8" fill="#FF0000"/>
<path d="M1023.3,1396.9L1030.5,1404.1L1023.3,1411.3L1016.1,1404.1Z" stroke="#FF0000" stroke-width="2.8" fill="#FF0000"/>
<path d="M1058.2,1406.3L1065.4,1413.5L1058.2,1420.7L1051.0,1413.5Z" stroke="#FF0000" stroke-width="2.8" fill="#FF0000"/>
<path d="M1083.2,1411.0L1090.4,1418.2L1083.2,1425.4L1076.0,1418.2Z" stroke="#FF0000" stroke-width="2.8" fill="#FF0000"/>
<path d="M1143.7,1424.6L1150.9,1431.8L1143.7,1439.0L1136.5,1431.8Z" stroke="#FF0000" stroke-width="2.8" fill="#FF0000"/>
<path d="M1163.2,1428.6L1170.4,1435.8L1163.2,1443.0L1156.0,1435.8Z" stroke="#FF0000" stroke-width="2.8" fill="#FF0000"/>
<path d="M1199.1,1436.8L1206.3,1444.0L1199.1,1451.2L1191.9,1444.0Z" stroke="#FF0000" stroke-width="2.8" fill="#FF0000"/>
<path d="M1224.6,1442.8L1231.8,1450.0L1224.6,1457.2L1217.4,1450.0Z" stroke="#FF0000" stroke-width="2.8" fill="#FF0000"/>
<path d="M1260.6,1451.8L1267.8,1459.0L1260.6,1466.2L1253.4,1459.0Z" stroke="#FF0000" stroke-width="2.8" fill="#FF0000"/>
<path d="M1286.4,1455.8L1293.6,1463.0L1286.4,1470.2L1279.2,1463.0Z" stroke="#FF0000" stroke-width="2.8" fill="#FF0000"/>
<path d="M1322.4,1460.3L1329.6,1467.5L1322.4,1474.7L1315.2,1467.5Z" stroke="#FF0000" stroke-width="2.8" fill="#FF0000"/>
<path d="M1367.6,1464.8L1374.8,1472.0L1367.6,1479.2L1360.4,1472.0Z" stroke="#FF0000" stroke-width="2.8" fill="#FF0000"/>
<path d="M1429.5,1467.8L1436.7,1475.0L1429.5,1482.2L1422.3,1475.0Z" stroke="#FF0000" stroke-width="2.8" fill="#FF0000"/>
<circle cx="937.5" cy="1405.7" r="7.4" stroke="#0070C0" stroke-width="3.6" fill="none"/>
<circle cx="966.1" cy="1414.9" r="7.4" stroke="#0070C0" stroke-width="3.6" fill="none"/>
<circle cx="1023.3" cy="1426.0" r="7.4" stroke="#0070C0" stroke-width="3.6" fill="none"/>
<circle cx="1058.2" cy="1433.0" r="7.4" stroke="#0070C0" stroke-width="3.6" fill="none"/>
<circle cx="1083.2" cy="1436.3" r="7.4" stroke="#0070C0" stroke-width="3.6" fill="none"/>
<circle cx="1143.7" cy="1445.8" r="7.4" stroke="#0070C0" stroke-width="3.6" fill="none"/>
<circle cx="1163.2" cy="1448.5" r="7.4" stroke="#0070C0" stroke-width="3.6" fill="none"/>
<circle cx="1199.1" cy="1452.5" r="7.4" stroke="#0070C0" stroke-width="3.6" fill="none"/>
<circle cx="1224.6" cy="1455.2" r="7.4" stroke="#0070C0" stroke-width="3.6" fill="none"/>
<circle cx="1260.6" cy="1462.0" r="7.4" stroke="#0070C0" stroke-width="3.6" fill="none"/>
<circle cx="1286.4" cy="1465.0" r="7.4" stroke="#0070C0" stroke-width="3.6" fill="none"/>
<circle cx="1322.4" cy="1469.0" r="7.4" stroke="#0070C0" stroke-width="3.6" fill="none"/>
<circle cx="1367.6" cy="1473.0" r="7.4" stroke="#0070C0" stroke-width="3.6" fill="none"/>
<circle cx="1429.5" cy="1475.5" r="7.4" stroke="#0070C0" stroke-width="3.6" fill="none"/>
<rect x="929.5" y="1418.8" width="16" height="5.5" rx="1" fill="#5B8C3A"/>
<rect x="958.1" y="1424.5" width="16" height="5.5" rx="1" fill="#5B8C3A"/>
<rect x="1015.3" y="1435.2" width="16" height="5.5" rx="1" fill="#5B8C3A"/>
<rect x="1050.2" y="1441.3" width="16" height="5.5" rx="1" fill="#5B8C3A"/>
<rect x="1075.2" y="1444.3" width="16" height="5.5" rx="1" fill="#5B8C3A"/>
<rect x="1135.7" y="1451.2" width="16" height="5.5" rx="1" fill="#5B8C3A"/>
<rect x="1155.2" y="1452.5" width="16" height="5.5" rx="1" fill="#5B8C3A"/>
<rect x="1191.1" y="1456.2" width="16" height="5.5" rx="1" fill="#5B8C3A"/>
<rect x="1216.6" y="1458.2" width="16" height="5.5" rx="1" fill="#5B8C3A"/>
<rect x="1252.6" y="1462.2" width="16" height="5.5" rx="1" fill="#5B8C3A"/>
<rect x="1278.4" y="1464.8" width="16" height="5.5" rx="1" fill="#5B8C3A"/>
<rect x="1314.4" y="1468.2" width="16" height="5.5" rx="1" fill="#5B8C3A"/>
<rect x="1359.6" y="1471.2" width="16" height="5.5" rx="1" fill="#5B8C3A"/>
<rect x="1421.5" y="1473.2" width="16" height="5.5" rx="1" fill="#5B8C3A"/>
<path d="M929.8,1439.0L945.2,1439.0M937.5,1431.3L937.5,1446.7" stroke="#375623" stroke-width="2.6" fill="none"/>
<path d="M958.4,1442.4L973.8,1442.4M966.1,1434.7L966.1,1450.1" stroke="#375623" stroke-width="2.6" fill="none"/>
<path d="M1015.6,1447.7L1031.0,1447.7M1023.3,1440.0L1023.3,1455.4" stroke="#375623" stroke-width="2.6" fill="none"/>
<path d="M1050.5,1452.2L1065.9,1452.2M1058.2,1444.5L1058.2,1459.9" stroke="#375623" stroke-width="2.6" fill="none"/>
<path d="M1075.5,1453.8L1090.9,1453.8M1083.2,1446.1L1083.2,1461.5" stroke="#375623" stroke-width="2.6" fill="none"/>
<path d="M1136.0,1458.0L1151.4,1458.0M1143.7,1450.3L1143.7,1465.7" stroke="#375623" stroke-width="2.6" fill="none"/>
<path d="M1155.5,1459.5L1170.9,1459.5M1163.2,1451.8L1163.2,1467.2" stroke="#375623" stroke-width="2.6" fill="none"/>
<path d="M1191.4,1462.0L1206.8,1462.0M1199.1,1454.3L1199.1,1469.7" stroke="#375623" stroke-width="2.6" fill="none"/>
<path d="M1216.9,1464.0L1232.3,1464.0M1224.6,1456.3L1224.6,1471.7" stroke="#375623" stroke-width="2.6" fill="none"/>
<path d="M1252.9,1467.0L1268.3,1467.0M1260.6,1459.3L1260.6,1474.7" stroke="#375623" stroke-width="2.6" fill="none"/>
<path d="M1278.7,1469.0L1294.1,1469.0M1286.4,1461.3L1286.4,1476.7" stroke="#375623" stroke-width="2.6" fill="none"/>
<path d="M1314.7,1472.0L1330.1,1472.0M1322.4,1464.3L1322.4,1479.7" stroke="#375623" stroke-width="2.6" fill="none"/>
<path d="M1359.9,1474.5L1375.3,1474.5M1367.6,1466.8L1367.6,1482.2" stroke="#375623" stroke-width="2.6" fill="none"/>
<path d="M1421.8,1476.5L1437.2,1476.5M1429.5,1468.8L1429.5,1484.2" stroke="#375623" stroke-width="2.6" fill="none"/>
<path d="M937.5,1444.2L945.1,1451.8L937.5,1459.4L929.9,1451.8Z" stroke="#C00000" stroke-width="3.2" fill="none"/>
<path d="M966.1,1444.6L973.7,1452.2L966.1,1459.8L958.5,1452.2Z" stroke="#C00000" stroke-width="3.2" fill="none"/>
<path d="M1023.3,1446.8L1030.9,1454.4L1023.3,1462.0L1015.7,1454.4Z" stroke="#C00000" stroke-width="3.2" fill="none"/>
<path d="M1058.2,1448.9L1065.8,1456.5L1058.2,1464.1L1050.6,1456.5Z" stroke="#C00000" stroke-width="3.2" fill="none"/>
<path d="M1083.2,1449.5L1090.8,1457.1L1083.2,1464.7L1075.6,1457.1Z" stroke="#C00000" stroke-width="3.2" fill="none"/>
<path d="M1143.7,1454.3L1151.3,1461.9L1143.7,1469.5L1136.1,1461.9Z" stroke="#C00000" stroke-width="3.2" fill="none"/>
<path d="M1163.2,1455.7L1170.8,1463.3L1163.2,1470.9L1155.6,1463.3Z" stroke="#C00000" stroke-width="3.2" fill="none"/>
<path d="M1199.1,1457.4L1206.7,1465.0L1199.1,1472.6L1191.5,1465.0Z" stroke="#C00000" stroke-width="3.2" fill="none"/>
<path d="M1224.6,1458.9L1232.2,1466.5L1224.6,1474.1L1217.0,1466.5Z" stroke="#C00000" stroke-width="3.2" fill="none"/>
<path d="M1260.6,1461.4L1268.2,1469.0L1260.6,1476.6L1253.0,1469.0Z" stroke="#C00000" stroke-width="3.2" fill="none"/>
<path d="M1286.4,1462.9L1294.0,1470.5L1286.4,1478.1L1278.8,1470.5Z" stroke="#C00000" stroke-width="3.2" fill="none"/>
<path d="M1322.4,1464.9L1330.0,1472.5L1322.4,1480.1L1314.8,1472.5Z" stroke="#C00000" stroke-width="3.2" fill="none"/>
<path d="M1367.6,1467.4L1375.2,1475.0L1367.6,1482.6L1360.0,1475.0Z" stroke="#C00000" stroke-width="3.2" fill="none"/>
<path d="M1429.5,1469.4L1437.1,1477.0L1429.5,1484.6L1421.9,1477.0Z" stroke="#C00000" stroke-width="3.2" fill="none"/>
<path d="M937.5,1456.4L945.1,1472.4L929.9,1472.4Z" stroke="#808080" stroke-width="3.5" fill="none" stroke-linejoin="round"/>
<path d="M966.1,1456.4L973.7,1472.4L958.5,1472.4Z" stroke="#808080" stroke-width="3.5" fill="none" stroke-linejoin="round"/>
<path d="M1023.3,1456.4L1030.9,1472.4L1015.7,1472.4Z" stroke="#808080" stroke-width="3.5" fill="none" stroke-linejoin="round"/>
<path d="M1058.2,1456.8L1065.8,1472.8L1050.6,1472.8Z" stroke="#808080" stroke-width="3.5" fill="none" stroke-linejoin="round"/>
<path d="M1083.2,1456.8L1090.8,1472.8L1075.6,1472.8Z" stroke="#808080" stroke-width="3.5" fill="none" stroke-linejoin="round"/>
<path d="M1143.7,1459.2L1151.3,1475.2L1136.1,1475.2Z" stroke="#808080" stroke-width="3.5" fill="none" stroke-linejoin="round"/>
<path d="M1163.2,1461.2L1170.8,1477.2L1155.6,1477.2Z" stroke="#808080" stroke-width="3.5" fill="none" stroke-linejoin="round"/>
<path d="M1199.1,1462.5L1206.7,1478.5L1191.5,1478.5Z" stroke="#808080" stroke-width="3.5" fill="none" stroke-linejoin="round"/>
<path d="M1224.6,1463.2L1232.2,1479.2L1217.0,1479.2Z" stroke="#808080" stroke-width="3.5" fill="none" stroke-linejoin="round"/>
<path d="M1260.6,1463.6L1268.2,1479.6L1253.0,1479.6Z" stroke="#808080" stroke-width="3.5" fill="none" stroke-linejoin="round"/>
<path d="M1286.4,1464.4L1294.0,1480.4L1278.8,1480.4Z" stroke="#808080" stroke-width="3.5" fill="none" stroke-linejoin="round"/>
<path d="M1322.4,1465.2L1330.0,1481.2L1314.8,1481.2Z" stroke="#808080" stroke-width="3.5" fill="none" stroke-linejoin="round"/>
<path d="M1367.6,1466.9L1375.2,1482.9L1360.0,1482.9Z" stroke="#808080" stroke-width="3.5" fill="none" stroke-linejoin="round"/>
<path d="M1429.5,1468.5L1437.1,1484.5L1421.9,1484.5Z" stroke="#808080" stroke-width="3.5" fill="none" stroke-linejoin="round"/>
<text transform="translate(1043.3,877.7) scale(1.01,1.04)" font-size="33.5" text-anchor="start" font-weight="bold" fill="#000" stroke="#000" stroke-width="0.45">374</text>
<path d="M1018.4,858.9L1033.0,873.5M1033.0,858.9L1018.4,873.5M1025.7,858.9L1025.7,873.5" stroke="#00B0F0" stroke-width="2.5" fill="none"/>
<text transform="translate(1151.0,877.7) scale(1.01,1.04)" font-size="33.5" text-anchor="start" font-weight="bold" fill="#000" stroke="#000" stroke-width="0.45">378</text>
<rect x="1132.3" y="863.5" width="10" height="5.5" rx="1.5" fill="#FFC000"/>
<text transform="translate(1259.7,877.7) scale(1.01,1.04)" font-size="33.5" text-anchor="start" font-weight="bold" fill="#000" stroke="#000" stroke-width="0.45">380</text>
<path d="M1235.8,859.0L1250.2,873.4M1250.2,859.0L1235.8,873.4" stroke="#70AD47" stroke-width="3.6" fill="none"/>
<text transform="translate(1368.3,877.7) scale(1.01,1.04)" font-size="33.5" text-anchor="start" font-weight="bold" fill="#000" stroke="#000" stroke-width="0.45">384</text>
<path d="M1351.6,856.9L1360.3,873.8L1342.9,873.8Z" fill="#002060"/>
<text transform="translate(1043.3,941.1) scale(1.01,1.04)" font-size="33.5" text-anchor="start" font-weight="bold" fill="#000" stroke="#000" stroke-width="0.45">388</text>
<rect x="1018.1" y="922.0" width="15.2" height="15.2" stroke="#FFC000" stroke-width="3.6" fill="none" stroke-linejoin="round"/>
<text transform="translate(1151.0,941.1) scale(1.01,1.04)" font-size="33.5" text-anchor="start" font-weight="bold" fill="#000" stroke="#000" stroke-width="0.45">390</text>
<path d="M1134.3,922.4L1141.5,929.6L1134.3,936.8L1127.1,929.6Z" stroke="#FF0000" stroke-width="2.8" fill="#FF0000"/>
<text transform="translate(1259.7,941.1) scale(1.01,1.04)" font-size="33.5" text-anchor="start" font-weight="bold" fill="#000" stroke="#000" stroke-width="0.45">394</text>
<circle cx="1243.0" cy="929.6" r="7.4" stroke="#0070C0" stroke-width="3.6" fill="none"/>
<text transform="translate(1368.3,941.1) scale(1.01,1.04)" font-size="33.5" text-anchor="start" font-weight="bold" fill="#000" stroke="#000" stroke-width="0.45">398</text>
<rect x="1343.6" y="926.9" width="16" height="5.5" rx="1" fill="#5B8C3A"/>
<text transform="translate(1043.3,1004.5) scale(1.01,1.04)" font-size="33.5" text-anchor="start" font-weight="bold" fill="#000" stroke="#000" stroke-width="0.45">406</text>
<path d="M1018.0,993.0L1033.4,993.0M1025.7,985.3L1025.7,1000.7" stroke="#375623" stroke-width="2.6" fill="none"/>
<text transform="translate(1151.0,1004.5) scale(1.01,1.04)" font-size="33.5" text-anchor="start" font-weight="bold" fill="#000" stroke="#000" stroke-width="0.45">410</text>
<path d="M1134.3,985.4L1141.9,993.0L1134.3,1000.6L1126.7,993.0Z" stroke="#C00000" stroke-width="3.2" fill="none"/>
<text transform="translate(1259.7,1004.5) scale(1.01,1.04)" font-size="33.5" text-anchor="start" font-weight="bold" fill="#000" stroke="#000" stroke-width="0.45">414</text>
<path d="M1243.0,984.2L1250.6,1000.2L1235.4,1000.2Z" stroke="#808080" stroke-width="3.5" fill="none" stroke-linejoin="round"/>
<text transform="translate(1337.0,1004.5) scale(1.01,1.04)" font-size="33.5" text-anchor="start" font-weight="bold" fill="#000" stroke="#000" stroke-width="0.45">K</text>
<line x1="303.7" y1="1605.5" x2="303.7" y2="1918.7" stroke="#000" stroke-width="2" />
<line x1="293.0" y1="1657.5" x2="303.7" y2="1657.5" stroke="#000" stroke-width="2" />
<line x1="293.0" y1="1788.2" x2="303.7" y2="1788.2" stroke="#000" stroke-width="2" />
<line x1="293.0" y1="1918.7" x2="303.7" y2="1918.7" stroke="#000" stroke-width="2" />
<text transform="translate(272.8,1669.0) scale(1.01,1.04)" font-size="35" text-anchor="end" font-weight="bold" fill="#000" stroke="#000" stroke-width="0.45">1.0E+09</text>
<text transform="translate(272.8,1799.7) scale(1.01,1.04)" font-size="35" text-anchor="end" font-weight="bold" fill="#000" stroke="#000" stroke-width="0.45">5.0E+08</text>
<text transform="translate(272.8,1930.2) scale(1.01,1.04)" font-size="35" text-anchor="end" font-weight="bold" fill="#000" stroke="#000" stroke-width="0.45">3.5E+05</text>
<line x1="1230.9" y1="1605.5" x2="1230.9" y2="1918.7" stroke="#8C8C8C" stroke-width="1.3" />
<line x1="1230.9" y1="1605.5" x2="1242.0" y2="1605.5" stroke="#8C8C8C" stroke-width="1.3" />
<line x1="1230.9" y1="1709.6" x2="1242.0" y2="1709.6" stroke="#8C8C8C" stroke-width="1.3" />
<line x1="1230.9" y1="1814.0" x2="1242.0" y2="1814.0" stroke="#8C8C8C" stroke-width="1.3" />
<text transform="translate(1261.2,1617.0) scale(1.01,1.04)" font-size="35" text-anchor="start" font-weight="bold" fill="#000" stroke="#000" stroke-width="0.45">6.0E+05</text>
<text transform="translate(1261.2,1721.1) scale(1.01,1.04)" font-size="35" text-anchor="start" font-weight="bold" fill="#000" stroke="#000" stroke-width="0.45">5.0E+05</text>
<text transform="translate(1261.2,1825.5) scale(1.01,1.04)" font-size="35" text-anchor="start" font-weight="bold" fill="#000" stroke="#000" stroke-width="0.45">4.0E+05</text>
<text transform="translate(1261.2,1930.0) scale(1.01,1.04)" font-size="35" text-anchor="start" font-weight="bold" fill="#000" stroke="#000" stroke-width="0.45">3.0E+05</text>
<line x1="302.7" y1="1918.7" x2="1231.4" y2="1918.7" stroke="#000" stroke-width="2" />
<line x1="304.6" y1="1918.7" x2="304.6" y2="1928.5" stroke="#000" stroke-width="2" />
<line x1="613.2" y1="1918.7" x2="613.2" y2="1928.5" stroke="#000" stroke-width="2" />
<line x1="921.8" y1="1918.7" x2="921.8" y2="1928.5" stroke="#000" stroke-width="2" />
<line x1="1230.4" y1="1918.7" x2="1230.4" y2="1928.5" stroke="#000" stroke-width="2" />
<text transform="translate(304.6,1972.0) scale(1.01,1.04)" font-size="35" text-anchor="middle" font-weight="bold" fill="#000" stroke="#000" stroke-width="0.45">370</text>
<text transform="translate(613.2,1972.0) scale(1.01,1.04)" font-size="35" text-anchor="middle" font-weight="bold" fill="#000" stroke="#000" stroke-width="0.45">380</text>
<text transform="translate(921.8,1972.0) scale(1.01,1.04)" font-size="35" text-anchor="middle" font-weight="bold" fill="#000" stroke="#000" stroke-width="0.45">390</text>
<text transform="translate(1230.4,1972.0) scale(1.01,1.04)" font-size="35" text-anchor="middle" font-weight="bold" fill="#000" stroke="#000" stroke-width="0.45">400</text>
<text transform="translate(715.0,1972.0) scale(1.01,1.04)" font-size="35" text-anchor="start" font-weight="bold" fill="#000" stroke="#000" stroke-width="0.45">T (K)</text>
<text transform="translate(24.5,1960.5) scale(1.01,1.04)" font-size="35" text-anchor="start" font-weight="bold" fill="#000" stroke="#000" stroke-width="0.45">g.</text>
<text transform="translate(48.5,1807.5) rotate(-90) scale(1.0,1.04)" font-size="35" font-weight="bold" stroke="#000" stroke-width="0.35">R<tspan font-size="22" font-weight="normal" stroke-width="0.2" dy="8">3</tspan><tspan dy="-8" dx="5.5">(</tspan><tspan font-family="Liberation Serif" font-weight="normal" font-size="36" stroke-width="0.2">&#937;</tspan>)</text>
<text transform="translate(100,1810.5) rotate(-90) scale(1.0,1.04)" font-size="35" font-weight="bold" stroke="#000" stroke-width="0.35">R<tspan font-size="22" font-weight="normal" stroke-width="0.2" dy="8">2</tspan><tspan dy="-8" dx="8">(</tspan><tspan font-family="Liberation Serif" font-weight="normal" font-size="36" stroke-width="0.2">&#937;</tspan>)</text>
<text transform="translate(1439,1809.5) rotate(-90) scale(1.0,1.04)" font-size="35" font-weight="bold" stroke="#000" stroke-width="0.35">R<tspan font-size="22" font-weight="normal" stroke-width="0.2" dy="8">1</tspan><tspan dy="-8" dx="7.5">(</tspan><tspan font-family="Liberation Serif" font-weight="normal" font-size="36" stroke-width="0.2">&#937;</tspan>)</text>
<line x1="420.4" y1="1627.5" x2="824.0" y2="1768.6" stroke="#000" stroke-width="1.6" />
<line x1="787.5" y1="1855.2" x2="1232.8" y2="1900.8" stroke="#000" stroke-width="1.6" />
<path d="M428.0,1631.6L436.3,1647.8L419.7,1647.8Z" fill="#A5A5A5"/>
<path d="M551.5,1651.6L559.8,1667.8L543.2,1667.8Z" fill="#A5A5A5"/>
<path d="M613.2,1686.1L621.5,1702.3L604.9,1702.3Z" fill="#A5A5A5"/>
<path d="M674.9,1705.1L683.2,1721.3L666.6,1721.3Z" fill="#A5A5A5"/>
<path d="M736.6,1728.5L744.9,1744.7L728.3,1744.7Z" fill="#A5A5A5"/>
<path d="M798.4,1751.2L806.7,1767.4L790.1,1767.4Z" fill="#A5A5A5"/>
<path d="M860.1,1843.8L868.4,1860.0L851.8,1860.0Z" fill="#A5A5A5"/>
<path d="M921.8,1858.8L930.1,1875.0L913.5,1875.0Z" fill="#A5A5A5"/>
<path d="M1045.2,1876.3L1053.5,1892.5L1036.9,1892.5Z" fill="#A5A5A5"/>
<path d="M1107.0,1885.3L1115.3,1901.5L1098.7,1901.5Z" fill="#A5A5A5"/>
<path d="M1168.7,1882.3L1177.0,1898.5L1160.4,1898.5Z" fill="#A5A5A5"/>
<path d="M1230.4,1887.3L1238.7,1903.5L1222.1,1903.5Z" fill="#A5A5A5"/>
<path d="M420.2,1686.2L435.8,1701.8M435.8,1686.2L420.2,1701.8M428.0,1686.2L428.0,1701.8" stroke="#5B9BD5" stroke-width="2.2" fill="none"/>
<path d="M543.7,1704.6L559.3,1720.2M559.3,1704.6L543.7,1720.2M551.5,1704.6L551.5,1720.2" stroke="#5B9BD5" stroke-width="2.2" fill="none"/>
<path d="M605.4,1728.1L621.0,1743.7M621.0,1728.1L605.4,1743.7M613.2,1728.1L613.2,1743.7" stroke="#5B9BD5" stroke-width="2.2" fill="none"/>
<path d="M667.1,1737.1L682.7,1752.7M682.7,1737.1L667.1,1752.7M674.9,1737.1L674.9,1752.7" stroke="#5B9BD5" stroke-width="2.2" fill="none"/>
<path d="M728.8,1749.6L744.4,1765.2M744.4,1749.6L728.8,1765.2M736.6,1749.6L736.6,1765.2" stroke="#5B9BD5" stroke-width="2.2" fill="none"/>
<path d="M790.6,1758.3L806.2,1773.9M806.2,1758.3L790.6,1773.9M798.4,1758.3L798.4,1773.9" stroke="#5B9BD5" stroke-width="2.2" fill="none"/>
<path d="M852.3,1794.8L867.9,1810.4M867.9,1794.8L852.3,1810.4M860.1,1794.8L860.1,1810.4" stroke="#5B9BD5" stroke-width="2.2" fill="none"/>
<path d="M914.0,1801.3L929.6,1816.9M929.6,1801.3L914.0,1816.9M921.8,1801.3L921.8,1816.9" stroke="#5B9BD5" stroke-width="2.2" fill="none"/>
<path d="M1037.4,1802.3L1053.0,1817.9M1053.0,1802.3L1037.4,1817.9M1045.2,1802.3L1045.2,1817.9" stroke="#5B9BD5" stroke-width="2.2" fill="none"/>
<path d="M1099.2,1808.8L1114.8,1824.4M1114.8,1808.8L1099.2,1824.4M1107.0,1808.8L1107.0,1824.4" stroke="#5B9BD5" stroke-width="2.2" fill="none"/>
<path d="M1160.9,1813.9L1176.5,1829.5M1176.5,1813.9L1160.9,1829.5M1168.7,1813.9L1168.7,1829.5" stroke="#5B9BD5" stroke-width="2.2" fill="none"/>
<path d="M1222.6,1816.4L1238.2,1832.0M1238.2,1816.4L1222.6,1832.0M1230.4,1816.4L1230.4,1832.0" stroke="#5B9BD5" stroke-width="2.2" fill="none"/>
<rect x="419.7" y="1873.2" width="16.6" height="16.6" stroke="#ED7D31" stroke-width="0" fill="#ED7D31" stroke-linejoin="round"/>
<rect x="543.2" y="1877.5" width="16.6" height="16.6" stroke="#ED7D31" stroke-width="0" fill="#ED7D31" stroke-linejoin="round"/>
<rect x="604.9" y="1878.9" width="16.6" height="16.6" stroke="#ED7D31" stroke-width="0" fill="#ED7D31" stroke-linejoin="round"/>
<rect x="666.6" y="1883.6" width="16.6" height="16.6" stroke="#ED7D31" stroke-width="0" fill="#ED7D31" stroke-linejoin="round"/>
<rect x="728.3" y="1886.0" width="16.6" height="16.6" stroke="#ED7D31" stroke-width="0" fill="#ED7D31" stroke-linejoin="round"/>
<rect x="790.1" y="1888.3" width="16.6" height="16.6" stroke="#ED7D31" stroke-width="0" fill="#ED7D31" stroke-linejoin="round"/>
<rect x="851.8" y="1892.2" width="16.6" height="16.6" stroke="#ED7D31" stroke-width="0" fill="#ED7D31" stroke-linejoin="round"/>
<rect x="913.5" y="1897.2" width="16.6" height="16.6" stroke="#ED7D31" stroke-width="0" fill="#ED7D31" stroke-linejoin="round"/>
<rect x="1036.9" y="1903.4" width="16.6" height="16.6" stroke="#ED7D31" stroke-width="0" fill="#ED7D31" stroke-linejoin="round"/>
<rect x="1098.7" y="1904.4" width="16.6" height="16.6" stroke="#ED7D31" stroke-width="0" fill="#ED7D31" stroke-linejoin="round"/>
<rect x="1160.4" y="1906.9" width="16.6" height="16.6" stroke="#ED7D31" stroke-width="0" fill="#ED7D31" stroke-linejoin="round"/>
<rect x="1222.1" y="1908.0" width="16.6" height="16.6" stroke="#ED7D31" stroke-width="0" fill="#ED7D31" stroke-linejoin="round"/>
<line x1="415.0" y1="1683.5" x2="841.1" y2="1779.1" stroke="#5B9BD5" stroke-width="4.3" />
<line x1="840.1" y1="1800.1" x2="1244.3" y2="1822.7" stroke="#5B9BD5" stroke-width="4.3" />
<line x1="410.2" y1="1889.1" x2="836.5" y2="1896.6" stroke="#ED7D31" stroke-width="4" />
<line x1="811.6" y1="1905.1" x2="1244.3" y2="1918.6" stroke="#ED7D31" stroke-width="4" />
<path d="M681.5,1608.6L689.8,1624.8L673.2,1624.8Z" fill="#A5A5A5"/>
<text transform="translate(700.0,1627.8) scale(1.01,1.04)" font-size="35" text-anchor="start" font-weight="bold" fill="#000" stroke="#000" stroke-width="0.45">R3</text>
<rect x="783.9" y="1607.9" width="16.6" height="16.6" stroke="#ED7D31" stroke-width="0" fill="#ED7D31" stroke-linejoin="round"/>
<text transform="translate(810.5,1627.8) scale(1.01,1.04)" font-size="35" text-anchor="start" font-weight="bold" fill="#000" stroke="#000" stroke-width="0.45">R2</text>
<path d="M895.1,1608.4L910.7,1624.0M910.7,1608.4L895.1,1624.0M902.9,1608.4L902.9,1624.0" stroke="#5B9BD5" stroke-width="2.2" fill="none"/>
<text transform="translate(921.0,1627.8) scale(1.01,1.04)" font-size="35" text-anchor="start" font-weight="bold" fill="#000" stroke="#000" stroke-width="0.45">R1</text>
</svg></body></html>
